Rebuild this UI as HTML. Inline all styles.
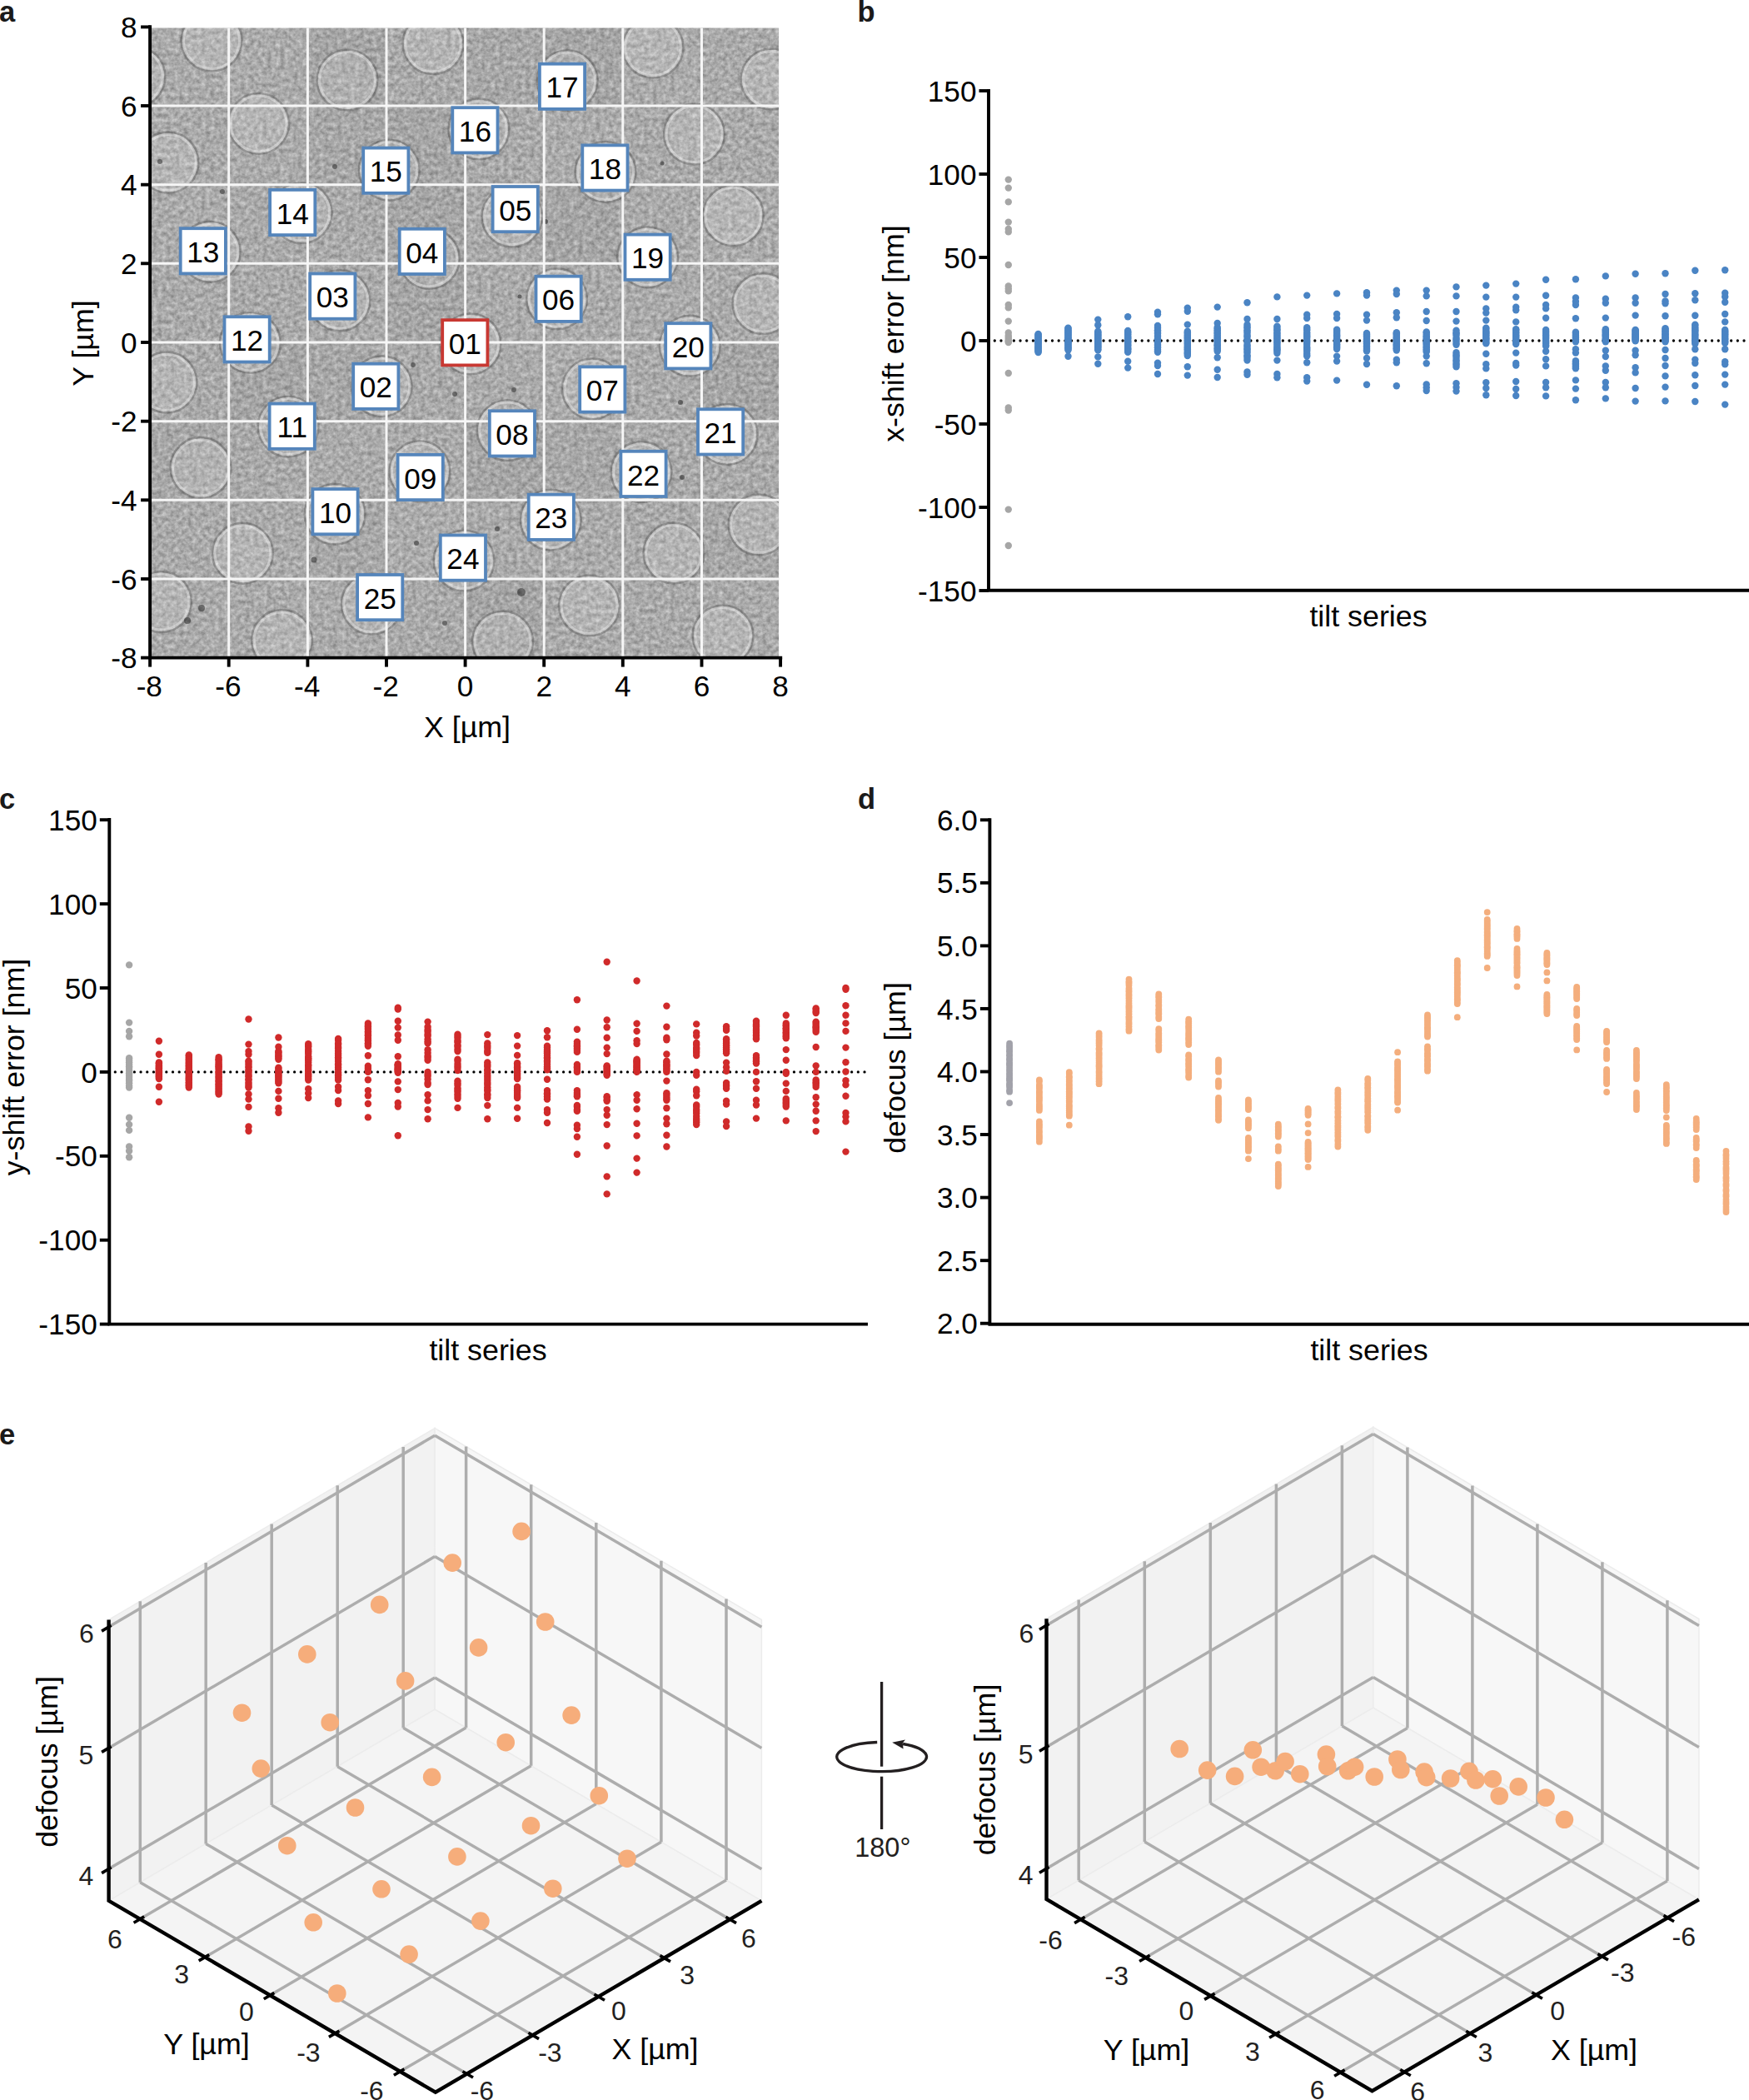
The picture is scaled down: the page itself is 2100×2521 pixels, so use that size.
<!DOCTYPE html>
<html><head><meta charset="utf-8"><title>Figure</title>
<style>
html,body{margin:0;padding:0;background:#fff;}
svg{display:block;}
text{font-family:"Liberation Sans", Arial, Helvetica, sans-serif;fill:#000;}
.t{font-size:35.2px;}
.tt{font-size:35.8px;}
.pl{font-size:34.5px;font-weight:bold;fill:#1a1a1a;}
.m{font-size:32px;fill:#231f20;}
.ax3{stroke:#000;stroke-width:4.4;fill:none;}
.tk3{stroke:#000;stroke-width:3.6;fill:none;}
.ax{stroke:#000;stroke-width:3.9;fill:none;stroke-linecap:butt;}
.g3{stroke:#adadad;stroke-width:3.5;fill:none;stroke-linecap:butt;}
</style></head><body>
<svg width="2100" height="2521" viewBox="0 0 2100 2521">
<rect width="2100" height="2521" fill="#fff"/>

<text class="pl" x="-1" y="26">a</text>
<text class="pl" x="1029.5" y="26">b</text>
<text class="pl" x="-1" y="971">c</text>
<text class="pl" x="1030" y="971">d</text>
<text class="pl" x="-1" y="1734">e</text>
<defs>
<filter id="nz" x="0" y="0" width="100%" height="100%" color-interpolation-filters="sRGB">
<feTurbulence type="fractalNoise" baseFrequency="0.19" numOctaves="3" seed="11" result="n"/>
<feColorMatrix in="n" type="matrix" values="0.38 0 0 0 0.475  0.38 0 0 0 0.475  0.38 0 0 0 0.475  0 0 0 0 1"/>
<feGaussianBlur stdDeviation="0.6"/>
</filter>
<clipPath id="ca"><rect x="181.6" y="33.4" width="753.5" height="755.3"/></clipPath>
</defs>
<g clip-path="url(#ca)">
<rect x="180.1" y="32.4" width="757.0" height="757.3" fill="#a4a4a4" filter="url(#nz)"/>
<rect x="180.1" y="32.4" width="94.6" height="94.7" fill="rgba(255,255,255,0.012)"/>
<rect x="180.1" y="221.7" width="94.6" height="94.7" fill="rgba(255,255,255,0.024)"/>
<rect x="180.1" y="505.7" width="94.6" height="94.7" fill="rgba(0,0,0,0.012)"/>
<rect x="180.1" y="695.0" width="94.6" height="94.7" fill="rgba(255,255,255,0.012)"/>
<rect x="274.7" y="32.4" width="94.6" height="94.7" fill="rgba(255,255,255,0.012)"/>
<rect x="274.7" y="127.0" width="94.6" height="94.7" fill="rgba(255,255,255,0.012)"/>
<rect x="274.7" y="411.0" width="94.6" height="94.7" fill="rgba(0,0,0,0.024)"/>
<rect x="274.7" y="600.3" width="94.6" height="94.7" fill="rgba(255,255,255,0.012)"/>
<rect x="369.4" y="32.4" width="94.6" height="94.7" fill="rgba(0,0,0,0.024)"/>
<rect x="369.4" y="127.0" width="94.6" height="94.7" fill="rgba(0,0,0,0.012)"/>
<rect x="369.4" y="411.0" width="94.6" height="94.7" fill="rgba(0,0,0,0.012)"/>
<rect x="369.4" y="505.7" width="94.6" height="94.7" fill="rgba(255,255,255,0.012)"/>
<rect x="369.4" y="600.3" width="94.6" height="94.7" fill="rgba(0,0,0,0.012)"/>
<rect x="369.4" y="695.0" width="94.6" height="94.7" fill="rgba(255,255,255,0.012)"/>
<rect x="464.0" y="127.0" width="94.6" height="94.7" fill="rgba(0,0,0,0.024)"/>
<rect x="464.0" y="221.7" width="94.6" height="94.7" fill="rgba(0,0,0,0.024)"/>
<rect x="464.0" y="316.3" width="94.6" height="94.7" fill="rgba(0,0,0,0.024)"/>
<rect x="464.0" y="600.3" width="94.6" height="94.7" fill="rgba(255,255,255,0.024)"/>
<rect x="558.6" y="32.4" width="94.6" height="94.7" fill="rgba(0,0,0,0.012)"/>
<rect x="558.6" y="316.3" width="94.6" height="94.7" fill="rgba(255,255,255,0.012)"/>
<rect x="558.6" y="411.0" width="94.6" height="94.7" fill="rgba(255,255,255,0.012)"/>
<rect x="558.6" y="505.7" width="94.6" height="94.7" fill="rgba(0,0,0,0.024)"/>
<rect x="558.6" y="600.3" width="94.6" height="94.7" fill="rgba(255,255,255,0.012)"/>
<rect x="558.6" y="695.0" width="94.6" height="94.7" fill="rgba(0,0,0,0.024)"/>
<rect x="653.2" y="32.4" width="94.6" height="94.7" fill="rgba(0,0,0,0.024)"/>
<rect x="653.2" y="127.0" width="94.6" height="94.7" fill="rgba(255,255,255,0.024)"/>
<rect x="653.2" y="221.7" width="94.6" height="94.7" fill="rgba(0,0,0,0.024)"/>
<rect x="653.2" y="316.3" width="94.6" height="94.7" fill="rgba(255,255,255,0.012)"/>
<rect x="653.2" y="411.0" width="94.6" height="94.7" fill="rgba(255,255,255,0.024)"/>
<rect x="653.2" y="505.7" width="94.6" height="94.7" fill="rgba(0,0,0,0.012)"/>
<rect x="653.2" y="600.3" width="94.6" height="94.7" fill="rgba(255,255,255,0.012)"/>
<rect x="747.8" y="32.4" width="94.6" height="94.7" fill="rgba(255,255,255,0.024)"/>
<rect x="747.8" y="221.7" width="94.6" height="94.7" fill="rgba(255,255,255,0.012)"/>
<rect x="747.8" y="316.3" width="94.6" height="94.7" fill="rgba(255,255,255,0.012)"/>
<rect x="747.8" y="411.0" width="94.6" height="94.7" fill="rgba(255,255,255,0.012)"/>
<rect x="842.5" y="221.7" width="94.6" height="94.7" fill="rgba(255,255,255,0.024)"/>
<rect x="842.5" y="411.0" width="94.6" height="94.7" fill="rgba(0,0,0,0.024)"/>
<rect x="842.5" y="600.3" width="94.6" height="94.7" fill="rgba(0,0,0,0.012)"/>
<rect x="842.5" y="695.0" width="94.6" height="94.7" fill="rgba(255,255,255,0.012)"/>
<circle cx="564.9" cy="412.9" r="36.5" fill="none" stroke="rgba(50,50,50,0.28)" stroke-width="2.4"/>
<circle cx="564.9" cy="412.9" r="33.5" fill="rgba(255,255,255,0.13)" stroke="rgba(255,255,255,0.34)" stroke-width="3"/>
<circle cx="458.2" cy="463.8" r="36.5" fill="none" stroke="rgba(50,50,50,0.28)" stroke-width="2.4"/>
<circle cx="458.2" cy="463.8" r="33.5" fill="rgba(255,255,255,0.13)" stroke="rgba(255,255,255,0.34)" stroke-width="3"/>
<circle cx="407.9" cy="360.8" r="36.5" fill="none" stroke="rgba(50,50,50,0.28)" stroke-width="2.4"/>
<circle cx="407.9" cy="360.8" r="33.5" fill="rgba(255,255,255,0.13)" stroke="rgba(255,255,255,0.34)" stroke-width="3"/>
<circle cx="515.3" cy="310.4" r="36.5" fill="none" stroke="rgba(50,50,50,0.28)" stroke-width="2.4"/>
<circle cx="515.3" cy="310.4" r="33.5" fill="rgba(255,255,255,0.13)" stroke="rgba(255,255,255,0.34)" stroke-width="3"/>
<circle cx="614.9" cy="260.1" r="36.5" fill="none" stroke="rgba(50,50,50,0.28)" stroke-width="2.4"/>
<circle cx="614.9" cy="260.1" r="33.5" fill="rgba(255,255,255,0.13)" stroke="rgba(255,255,255,0.34)" stroke-width="3"/>
<circle cx="668.6" cy="358.8" r="36.5" fill="none" stroke="rgba(50,50,50,0.28)" stroke-width="2.4"/>
<circle cx="668.6" cy="358.8" r="33.5" fill="rgba(255,255,255,0.13)" stroke="rgba(255,255,255,0.34)" stroke-width="3"/>
<circle cx="711.3" cy="466.8" r="36.5" fill="none" stroke="rgba(50,50,50,0.28)" stroke-width="2.4"/>
<circle cx="711.3" cy="466.8" r="33.5" fill="rgba(255,255,255,0.13)" stroke="rgba(255,255,255,0.34)" stroke-width="3"/>
<circle cx="609.2" cy="516.6" r="36.5" fill="none" stroke="rgba(50,50,50,0.28)" stroke-width="2.4"/>
<circle cx="609.2" cy="516.6" r="33.5" fill="rgba(255,255,255,0.13)" stroke="rgba(255,255,255,0.34)" stroke-width="3"/>
<circle cx="503.9" cy="565.8" r="36.5" fill="none" stroke="rgba(50,50,50,0.28)" stroke-width="2.4"/>
<circle cx="503.9" cy="565.8" r="33.5" fill="rgba(255,255,255,0.13)" stroke="rgba(255,255,255,0.34)" stroke-width="3"/>
<circle cx="402.1" cy="617.3" r="36.5" fill="none" stroke="rgba(50,50,50,0.28)" stroke-width="2.4"/>
<circle cx="402.1" cy="617.3" r="33.5" fill="rgba(255,255,255,0.13)" stroke="rgba(255,255,255,0.34)" stroke-width="3"/>
<circle cx="346.1" cy="512.1" r="36.5" fill="none" stroke="rgba(50,50,50,0.28)" stroke-width="2.4"/>
<circle cx="346.1" cy="512.1" r="33.5" fill="rgba(255,255,255,0.13)" stroke="rgba(255,255,255,0.34)" stroke-width="3"/>
<circle cx="300.4" cy="411.4" r="36.5" fill="none" stroke="rgba(50,50,50,0.28)" stroke-width="2.4"/>
<circle cx="300.4" cy="411.4" r="33.5" fill="rgba(255,255,255,0.13)" stroke="rgba(255,255,255,0.34)" stroke-width="3"/>
<circle cx="252.3" cy="302.3" r="36.5" fill="none" stroke="rgba(50,50,50,0.28)" stroke-width="2.4"/>
<circle cx="252.3" cy="302.3" r="33.5" fill="rgba(255,255,255,0.13)" stroke="rgba(255,255,255,0.34)" stroke-width="3"/>
<circle cx="362.2" cy="255.6" r="36.5" fill="none" stroke="rgba(50,50,50,0.28)" stroke-width="2.4"/>
<circle cx="362.2" cy="255.6" r="33.5" fill="rgba(255,255,255,0.13)" stroke="rgba(255,255,255,0.34)" stroke-width="3"/>
<circle cx="467.3" cy="204.1" r="36.5" fill="none" stroke="rgba(50,50,50,0.28)" stroke-width="2.4"/>
<circle cx="467.3" cy="204.1" r="33.5" fill="rgba(255,255,255,0.13)" stroke="rgba(255,255,255,0.34)" stroke-width="3"/>
<circle cx="574.9" cy="154.9" r="36.5" fill="none" stroke="rgba(50,50,50,0.28)" stroke-width="2.4"/>
<circle cx="574.9" cy="154.9" r="33.5" fill="rgba(255,255,255,0.13)" stroke="rgba(255,255,255,0.34)" stroke-width="3"/>
<circle cx="681.2" cy="96.6" r="36.5" fill="none" stroke="rgba(50,50,50,0.28)" stroke-width="2.4"/>
<circle cx="681.2" cy="96.6" r="33.5" fill="rgba(255,255,255,0.13)" stroke="rgba(255,255,255,0.34)" stroke-width="3"/>
<circle cx="727.0" cy="206.4" r="36.5" fill="none" stroke="rgba(50,50,50,0.28)" stroke-width="2.4"/>
<circle cx="727.0" cy="206.4" r="33.5" fill="rgba(255,255,255,0.13)" stroke="rgba(255,255,255,0.34)" stroke-width="3"/>
<circle cx="777.6" cy="308.7" r="36.5" fill="none" stroke="rgba(50,50,50,0.28)" stroke-width="2.4"/>
<circle cx="777.6" cy="308.7" r="33.5" fill="rgba(255,255,255,0.13)" stroke="rgba(255,255,255,0.34)" stroke-width="3"/>
<circle cx="828.3" cy="415.3" r="36.5" fill="none" stroke="rgba(50,50,50,0.28)" stroke-width="2.4"/>
<circle cx="828.3" cy="415.3" r="33.5" fill="rgba(255,255,255,0.13)" stroke="rgba(255,255,255,0.34)" stroke-width="3"/>
<circle cx="873.1" cy="521.4" r="36.5" fill="none" stroke="rgba(50,50,50,0.28)" stroke-width="2.4"/>
<circle cx="873.1" cy="521.4" r="33.5" fill="rgba(255,255,255,0.13)" stroke="rgba(255,255,255,0.34)" stroke-width="3"/>
<circle cx="770.0" cy="566.5" r="36.5" fill="none" stroke="rgba(50,50,50,0.28)" stroke-width="2.4"/>
<circle cx="770.0" cy="566.5" r="33.5" fill="rgba(255,255,255,0.13)" stroke="rgba(255,255,255,0.34)" stroke-width="3"/>
<circle cx="661.3" cy="624.1" r="36.5" fill="none" stroke="rgba(50,50,50,0.28)" stroke-width="2.4"/>
<circle cx="661.3" cy="624.1" r="33.5" fill="rgba(255,255,255,0.13)" stroke="rgba(255,255,255,0.34)" stroke-width="3"/>
<circle cx="557.0" cy="673.0" r="36.5" fill="none" stroke="rgba(50,50,50,0.28)" stroke-width="2.4"/>
<circle cx="557.0" cy="673.0" r="33.5" fill="rgba(255,255,255,0.13)" stroke="rgba(255,255,255,0.34)" stroke-width="3"/>
<circle cx="446.2" cy="725.0" r="36.5" fill="none" stroke="rgba(50,50,50,0.28)" stroke-width="2.4"/>
<circle cx="446.2" cy="725.0" r="33.5" fill="rgba(255,255,255,0.13)" stroke="rgba(255,255,255,0.34)" stroke-width="3"/>
<circle cx="254.0" cy="49.0" r="36.5" fill="none" stroke="rgba(50,50,50,0.28)" stroke-width="2.4"/>
<circle cx="254.0" cy="49.0" r="33.5" fill="rgba(255,255,255,0.13)" stroke="rgba(255,255,255,0.34)" stroke-width="3"/>
<circle cx="310.5" cy="148.4" r="36.5" fill="none" stroke="rgba(50,50,50,0.28)" stroke-width="2.4"/>
<circle cx="310.5" cy="148.4" r="33.5" fill="rgba(255,255,255,0.13)" stroke="rgba(255,255,255,0.34)" stroke-width="3"/>
<circle cx="202.0" cy="195.0" r="36.5" fill="none" stroke="rgba(50,50,50,0.28)" stroke-width="2.4"/>
<circle cx="202.0" cy="195.0" r="33.5" fill="rgba(255,255,255,0.13)" stroke="rgba(255,255,255,0.34)" stroke-width="3"/>
<circle cx="417.0" cy="96.0" r="36.5" fill="none" stroke="rgba(50,50,50,0.28)" stroke-width="2.4"/>
<circle cx="417.0" cy="96.0" r="33.5" fill="rgba(255,255,255,0.13)" stroke="rgba(255,255,255,0.34)" stroke-width="3"/>
<circle cx="520.0" cy="52.5" r="36.5" fill="none" stroke="rgba(50,50,50,0.28)" stroke-width="2.4"/>
<circle cx="520.0" cy="52.5" r="33.5" fill="rgba(255,255,255,0.13)" stroke="rgba(255,255,255,0.34)" stroke-width="3"/>
<circle cx="162.0" cy="92.0" r="36.5" fill="none" stroke="rgba(50,50,50,0.28)" stroke-width="2.4"/>
<circle cx="162.0" cy="92.0" r="33.5" fill="rgba(255,255,255,0.13)" stroke="rgba(255,255,255,0.34)" stroke-width="3"/>
<circle cx="784.0" cy="57.0" r="36.5" fill="none" stroke="rgba(50,50,50,0.28)" stroke-width="2.4"/>
<circle cx="784.0" cy="57.0" r="33.5" fill="rgba(255,255,255,0.13)" stroke="rgba(255,255,255,0.34)" stroke-width="3"/>
<circle cx="833.5" cy="161.0" r="36.5" fill="none" stroke="rgba(50,50,50,0.28)" stroke-width="2.4"/>
<circle cx="833.5" cy="161.0" r="33.5" fill="rgba(255,255,255,0.13)" stroke="rgba(255,255,255,0.34)" stroke-width="3"/>
<circle cx="880.3" cy="258.7" r="36.5" fill="none" stroke="rgba(50,50,50,0.28)" stroke-width="2.4"/>
<circle cx="880.3" cy="258.7" r="33.5" fill="rgba(255,255,255,0.13)" stroke="rgba(255,255,255,0.34)" stroke-width="3"/>
<circle cx="926.0" cy="95.0" r="36.5" fill="none" stroke="rgba(50,50,50,0.28)" stroke-width="2.4"/>
<circle cx="926.0" cy="95.0" r="33.5" fill="rgba(255,255,255,0.13)" stroke="rgba(255,255,255,0.34)" stroke-width="3"/>
<circle cx="916.0" cy="364.5" r="36.5" fill="none" stroke="rgba(50,50,50,0.28)" stroke-width="2.4"/>
<circle cx="916.0" cy="364.5" r="33.5" fill="rgba(255,255,255,0.13)" stroke="rgba(255,255,255,0.34)" stroke-width="3"/>
<circle cx="707.5" cy="727.0" r="36.5" fill="none" stroke="rgba(50,50,50,0.28)" stroke-width="2.4"/>
<circle cx="707.5" cy="727.0" r="33.5" fill="rgba(255,255,255,0.13)" stroke="rgba(255,255,255,0.34)" stroke-width="3"/>
<circle cx="809.0" cy="664.0" r="36.5" fill="none" stroke="rgba(50,50,50,0.28)" stroke-width="2.4"/>
<circle cx="809.0" cy="664.0" r="33.5" fill="rgba(255,255,255,0.13)" stroke="rgba(255,255,255,0.34)" stroke-width="3"/>
<circle cx="911.0" cy="630.0" r="36.5" fill="none" stroke="rgba(50,50,50,0.28)" stroke-width="2.4"/>
<circle cx="911.0" cy="630.0" r="33.5" fill="rgba(255,255,255,0.13)" stroke="rgba(255,255,255,0.34)" stroke-width="3"/>
<circle cx="868.0" cy="763.0" r="36.5" fill="none" stroke="rgba(50,50,50,0.28)" stroke-width="2.4"/>
<circle cx="868.0" cy="763.0" r="33.5" fill="rgba(255,255,255,0.13)" stroke="rgba(255,255,255,0.34)" stroke-width="3"/>
<circle cx="603.5" cy="770.0" r="36.5" fill="none" stroke="rgba(50,50,50,0.28)" stroke-width="2.4"/>
<circle cx="603.5" cy="770.0" r="33.5" fill="rgba(255,255,255,0.13)" stroke="rgba(255,255,255,0.34)" stroke-width="3"/>
<circle cx="200.0" cy="459.0" r="36.5" fill="none" stroke="rgba(50,50,50,0.28)" stroke-width="2.4"/>
<circle cx="200.0" cy="459.0" r="33.5" fill="rgba(255,255,255,0.13)" stroke="rgba(255,255,255,0.34)" stroke-width="3"/>
<circle cx="241.0" cy="561.5" r="36.5" fill="none" stroke="rgba(50,50,50,0.28)" stroke-width="2.4"/>
<circle cx="241.0" cy="561.5" r="33.5" fill="rgba(255,255,255,0.13)" stroke="rgba(255,255,255,0.34)" stroke-width="3"/>
<circle cx="291.4" cy="664.3" r="36.5" fill="none" stroke="rgba(50,50,50,0.28)" stroke-width="2.4"/>
<circle cx="291.4" cy="664.3" r="33.5" fill="rgba(255,255,255,0.13)" stroke="rgba(255,255,255,0.34)" stroke-width="3"/>
<circle cx="193.5" cy="722.5" r="36.5" fill="none" stroke="rgba(50,50,50,0.28)" stroke-width="2.4"/>
<circle cx="193.5" cy="722.5" r="33.5" fill="rgba(255,255,255,0.13)" stroke="rgba(255,255,255,0.34)" stroke-width="3"/>
<circle cx="338.5" cy="768.5" r="36.5" fill="none" stroke="rgba(50,50,50,0.28)" stroke-width="2.4"/>
<circle cx="338.5" cy="768.5" r="33.5" fill="rgba(255,255,255,0.13)" stroke="rgba(255,255,255,0.34)" stroke-width="3"/>
<circle cx="192" cy="194" r="3" fill="rgba(40,40,40,0.55)"/>
<circle cx="267" cy="230" r="3" fill="rgba(40,40,40,0.55)"/>
<circle cx="402" cy="200" r="3" fill="rgba(40,40,40,0.55)"/>
<circle cx="655" cy="266" r="3" fill="rgba(40,40,40,0.55)"/>
<circle cx="624" cy="356" r="2.5" fill="rgba(40,40,40,0.55)"/>
<circle cx="496" cy="438" r="3" fill="rgba(40,40,40,0.55)"/>
<circle cx="546" cy="473" r="3" fill="rgba(40,40,40,0.55)"/>
<circle cx="617" cy="468" r="3" fill="rgba(40,40,40,0.55)"/>
<circle cx="817" cy="483" r="3" fill="rgba(40,40,40,0.55)"/>
<circle cx="819" cy="573" r="3" fill="rgba(40,40,40,0.55)"/>
<circle cx="597" cy="635" r="3" fill="rgba(40,40,40,0.55)"/>
<circle cx="500" cy="652" r="3" fill="rgba(40,40,40,0.55)"/>
<circle cx="377" cy="672" r="3.5" fill="rgba(40,40,40,0.55)"/>
<circle cx="626" cy="711" r="5" fill="rgba(40,40,40,0.55)"/>
<circle cx="242" cy="730" r="4" fill="rgba(40,40,40,0.55)"/>
<circle cx="225" cy="745" r="4" fill="rgba(40,40,40,0.55)"/>
<circle cx="534" cy="748" r="3" fill="rgba(40,40,40,0.55)"/>
<circle cx="678" cy="93" r="2.5" fill="rgba(40,40,40,0.55)"/>
<circle cx="795" cy="196" r="2.5" fill="rgba(40,40,40,0.55)"/>
<circle cx="265" cy="298" r="2.5" fill="rgba(40,40,40,0.55)"/>
<line x1="274.7" y1="32.4" x2="274.7" y2="789.6" stroke="#f6f6f6" stroke-width="3"/>
<line x1="180.1" y1="695.0" x2="937.1" y2="695.0" stroke="#f6f6f6" stroke-width="3"/>
<line x1="369.4" y1="32.4" x2="369.4" y2="789.6" stroke="#f6f6f6" stroke-width="3"/>
<line x1="180.1" y1="600.3" x2="937.1" y2="600.3" stroke="#f6f6f6" stroke-width="3"/>
<line x1="464.0" y1="32.4" x2="464.0" y2="789.6" stroke="#f6f6f6" stroke-width="3"/>
<line x1="180.1" y1="505.7" x2="937.1" y2="505.7" stroke="#f6f6f6" stroke-width="3"/>
<line x1="558.6" y1="32.4" x2="558.6" y2="789.6" stroke="#f6f6f6" stroke-width="3"/>
<line x1="180.1" y1="411.0" x2="937.1" y2="411.0" stroke="#f6f6f6" stroke-width="3"/>
<line x1="653.2" y1="32.4" x2="653.2" y2="789.6" stroke="#f6f6f6" stroke-width="3"/>
<line x1="180.1" y1="316.3" x2="937.1" y2="316.3" stroke="#f6f6f6" stroke-width="3"/>
<line x1="747.8" y1="32.4" x2="747.8" y2="789.6" stroke="#f6f6f6" stroke-width="3"/>
<line x1="180.1" y1="221.7" x2="937.1" y2="221.7" stroke="#f6f6f6" stroke-width="3"/>
<line x1="842.5" y1="32.4" x2="842.5" y2="789.6" stroke="#f6f6f6" stroke-width="3"/>
<line x1="180.1" y1="127.0" x2="937.1" y2="127.0" stroke="#f6f6f6" stroke-width="3"/>
</g>
<rect x="531.2" y="384.2" width="54.2" height="54.2" fill="#fff" stroke="#c83832" stroke-width="3.8"/>
<text class="t" x="558.3" y="424.9" text-anchor="middle">01</text>
<rect x="424.2" y="436.7" width="54.2" height="54.2" fill="#fff" stroke="#5585bb" stroke-width="3.8"/>
<text class="t" x="451.3" y="477.4" text-anchor="middle">02</text>
<rect x="372.2" y="328.5" width="54.2" height="54.2" fill="#fff" stroke="#5585bb" stroke-width="3.8"/>
<text class="t" x="399.3" y="369.2" text-anchor="middle">03</text>
<rect x="479.7" y="274.8" width="54.2" height="54.2" fill="#fff" stroke="#5585bb" stroke-width="3.8"/>
<text class="t" x="506.8" y="315.5" text-anchor="middle">04</text>
<rect x="591.6" y="224.0" width="54.2" height="54.2" fill="#fff" stroke="#5585bb" stroke-width="3.8"/>
<text class="t" x="618.7" y="264.7" text-anchor="middle">05</text>
<rect x="643.5" y="331.7" width="54.2" height="54.2" fill="#fff" stroke="#5585bb" stroke-width="3.8"/>
<text class="t" x="670.6" y="372.4" text-anchor="middle">06</text>
<rect x="696.2" y="440.4" width="54.2" height="54.2" fill="#fff" stroke="#5585bb" stroke-width="3.8"/>
<text class="t" x="723.3" y="481.1" text-anchor="middle">07</text>
<rect x="587.8" y="493.3" width="54.2" height="54.2" fill="#fff" stroke="#5585bb" stroke-width="3.8"/>
<text class="t" x="614.9" y="534.0" text-anchor="middle">08</text>
<rect x="477.6" y="545.9" width="54.2" height="54.2" fill="#fff" stroke="#5585bb" stroke-width="3.8"/>
<text class="t" x="504.7" y="586.6" text-anchor="middle">09</text>
<rect x="375.4" y="587.1" width="54.2" height="54.2" fill="#fff" stroke="#5585bb" stroke-width="3.8"/>
<text class="t" x="402.5" y="627.8" text-anchor="middle">10</text>
<rect x="323.6" y="484.6" width="54.2" height="54.2" fill="#fff" stroke="#5585bb" stroke-width="3.8"/>
<text class="t" x="350.7" y="525.3" text-anchor="middle">11</text>
<rect x="269.5" y="380.3" width="54.2" height="54.2" fill="#fff" stroke="#5585bb" stroke-width="3.8"/>
<text class="t" x="296.6" y="421.0" text-anchor="middle">12</text>
<rect x="216.7" y="274.2" width="54.2" height="54.2" fill="#fff" stroke="#5585bb" stroke-width="3.8"/>
<text class="t" x="243.8" y="314.9" text-anchor="middle">13</text>
<rect x="324.1" y="227.9" width="54.2" height="54.2" fill="#fff" stroke="#5585bb" stroke-width="3.8"/>
<text class="t" x="351.2" y="268.6" text-anchor="middle">14</text>
<rect x="436.2" y="177.6" width="54.2" height="54.2" fill="#fff" stroke="#5585bb" stroke-width="3.8"/>
<text class="t" x="463.3" y="218.3" text-anchor="middle">15</text>
<rect x="543.3" y="129.2" width="54.2" height="54.2" fill="#fff" stroke="#5585bb" stroke-width="3.8"/>
<text class="t" x="570.4" y="169.9" text-anchor="middle">16</text>
<rect x="647.9" y="76.7" width="54.2" height="54.2" fill="#fff" stroke="#5585bb" stroke-width="3.8"/>
<text class="t" x="675.0" y="117.4" text-anchor="middle">17</text>
<rect x="699.3" y="174.4" width="54.2" height="54.2" fill="#fff" stroke="#5585bb" stroke-width="3.8"/>
<text class="t" x="726.4" y="215.1" text-anchor="middle">18</text>
<rect x="750.5" y="281.6" width="54.2" height="54.2" fill="#fff" stroke="#5585bb" stroke-width="3.8"/>
<text class="t" x="777.6" y="322.3" text-anchor="middle">19</text>
<rect x="799.2" y="388.2" width="54.2" height="54.2" fill="#fff" stroke="#5585bb" stroke-width="3.8"/>
<text class="t" x="826.3" y="428.9" text-anchor="middle">20</text>
<rect x="838.0" y="491.3" width="54.2" height="54.2" fill="#fff" stroke="#5585bb" stroke-width="3.8"/>
<text class="t" x="865.1" y="532.0" text-anchor="middle">21</text>
<rect x="745.4" y="541.8" width="54.2" height="54.2" fill="#fff" stroke="#5585bb" stroke-width="3.8"/>
<text class="t" x="772.5" y="582.5" text-anchor="middle">22</text>
<rect x="634.7" y="593.7" width="54.2" height="54.2" fill="#fff" stroke="#5585bb" stroke-width="3.8"/>
<text class="t" x="661.8" y="634.4" text-anchor="middle">23</text>
<rect x="528.8" y="642.5" width="54.2" height="54.2" fill="#fff" stroke="#5585bb" stroke-width="3.8"/>
<text class="t" x="555.9" y="683.2" text-anchor="middle">24</text>
<rect x="429.1" y="690.0" width="54.2" height="54.2" fill="#fff" stroke="#5585bb" stroke-width="3.8"/>
<text class="t" x="456.2" y="730.7" text-anchor="middle">25</text>
<path class="ax" d="M180.1 30.3V789.6H939.2"/>
<line class="ax" x1="169.1" y1="789.6" x2="180.1" y2="789.6"/>
<line class="ax" x1="180.1" y1="789.6" x2="180.1" y2="800.6"/>
<text class="t" x="164.6" y="802.2" text-anchor="end">-8</text>
<text class="t" x="179.3" y="836.3" text-anchor="middle">-8</text>
<line class="ax" x1="169.1" y1="695.0" x2="180.1" y2="695.0"/>
<line class="ax" x1="274.7" y1="789.6" x2="274.7" y2="800.6"/>
<text class="t" x="164.6" y="707.6" text-anchor="end">-6</text>
<text class="t" x="273.9" y="836.3" text-anchor="middle">-6</text>
<line class="ax" x1="169.1" y1="600.3" x2="180.1" y2="600.3"/>
<line class="ax" x1="369.4" y1="789.6" x2="369.4" y2="800.6"/>
<text class="t" x="164.6" y="612.9" text-anchor="end">-4</text>
<text class="t" x="368.6" y="836.3" text-anchor="middle">-4</text>
<line class="ax" x1="169.1" y1="505.7" x2="180.1" y2="505.7"/>
<line class="ax" x1="464.0" y1="789.6" x2="464.0" y2="800.6"/>
<text class="t" x="164.6" y="518.3" text-anchor="end">-2</text>
<text class="t" x="463.2" y="836.3" text-anchor="middle">-2</text>
<line class="ax" x1="169.1" y1="411.0" x2="180.1" y2="411.0"/>
<line class="ax" x1="558.6" y1="789.6" x2="558.6" y2="800.6"/>
<text class="t" x="164.6" y="423.6" text-anchor="end">0</text>
<text class="t" x="558.6" y="836.3" text-anchor="middle">0</text>
<line class="ax" x1="169.1" y1="316.3" x2="180.1" y2="316.3"/>
<line class="ax" x1="653.2" y1="789.6" x2="653.2" y2="800.6"/>
<text class="t" x="164.6" y="328.9" text-anchor="end">2</text>
<text class="t" x="653.2" y="836.3" text-anchor="middle">2</text>
<line class="ax" x1="169.1" y1="221.7" x2="180.1" y2="221.7"/>
<line class="ax" x1="747.8" y1="789.6" x2="747.8" y2="800.6"/>
<text class="t" x="164.6" y="234.3" text-anchor="end">4</text>
<text class="t" x="747.8" y="836.3" text-anchor="middle">4</text>
<line class="ax" x1="169.1" y1="127.0" x2="180.1" y2="127.0"/>
<line class="ax" x1="842.5" y1="789.6" x2="842.5" y2="800.6"/>
<text class="t" x="164.6" y="139.6" text-anchor="end">6</text>
<text class="t" x="842.5" y="836.3" text-anchor="middle">6</text>
<line class="ax" x1="169.1" y1="32.4" x2="180.1" y2="32.4"/>
<line class="ax" x1="937.1" y1="789.6" x2="937.1" y2="800.6"/>
<text class="t" x="164.6" y="45.0" text-anchor="end">8</text>
<text class="t" x="937.1" y="836.3" text-anchor="middle">8</text>
<text class="tt" x="561" y="885.3" text-anchor="middle">X [µm]</text>
<text class="tt" transform="translate(112,412.0) rotate(-90)" text-anchor="middle">Y [µm]</text>
<line x1="1194.3" y1="409" x2="2100" y2="409" stroke="#000" stroke-width="3.3" stroke-linecap="round" stroke-dasharray="0.01 7.68"/>
<g fill="#a6a6a6">
<circle cx="1210.8" cy="215.6" r="4.2"/>
<circle cx="1210.8" cy="225.6" r="4.2"/>
<circle cx="1210.8" cy="242.4" r="4.2"/>
<circle cx="1210.8" cy="266.6" r="4.2"/>
<circle cx="1210.8" cy="275.0" r="4.2"/>
<circle cx="1210.8" cy="278.4" r="4.2"/>
<circle cx="1210.8" cy="318.0" r="4.2"/>
<circle cx="1210.8" cy="343.4" r="4.2"/>
<circle cx="1210.8" cy="346.6" r="4.2"/>
<circle cx="1210.8" cy="349.4" r="4.2"/>
<circle cx="1210.8" cy="366.0" r="4.2"/>
<circle cx="1210.8" cy="369.4" r="4.2"/>
<circle cx="1210.8" cy="385.6" r="4.2"/>
<circle cx="1210.8" cy="399.4" r="4.2"/>
<circle cx="1210.8" cy="405.0" r="4.2"/>
<circle cx="1210.8" cy="409.0" r="4.2"/>
<circle cx="1210.8" cy="407.0" r="4.2"/>
<circle cx="1210.8" cy="411.0" r="4.2"/>
<circle cx="1210.8" cy="410.0" r="4.2"/>
<circle cx="1210.8" cy="448.0" r="4.2"/>
<circle cx="1210.8" cy="489.4" r="4.2"/>
<circle cx="1210.8" cy="492.6" r="4.2"/>
<circle cx="1210.8" cy="611.6" r="4.2"/>
<circle cx="1210.8" cy="655.0" r="4.2"/>
<circle cx="1210.8" cy="403.0" r="4.2"/>
</g>
<g fill="#4a84c4">
<circle cx="1246.6" cy="401.0" r="4.2"/>
<circle cx="1246.6" cy="401.9" r="4.2"/>
<circle cx="1246.6" cy="402.8" r="4.2"/>
<circle cx="1246.6" cy="403.5" r="4.2"/>
<circle cx="1246.6" cy="404.7" r="4.2"/>
<circle cx="1246.6" cy="405.7" r="4.2"/>
<circle cx="1246.6" cy="406.4" r="4.2"/>
<circle cx="1246.6" cy="407.5" r="4.2"/>
<circle cx="1246.6" cy="408.4" r="4.2"/>
<circle cx="1246.6" cy="409.5" r="4.2"/>
<circle cx="1246.6" cy="410.0" r="4.2"/>
<circle cx="1246.6" cy="410.9" r="4.2"/>
<circle cx="1246.6" cy="411.7" r="4.2"/>
<circle cx="1246.6" cy="412.6" r="4.2"/>
<circle cx="1246.6" cy="413.6" r="4.2"/>
<circle cx="1246.6" cy="414.8" r="4.2"/>
<circle cx="1246.6" cy="415.9" r="4.2"/>
<circle cx="1246.6" cy="416.8" r="4.2"/>
<circle cx="1246.6" cy="417.4" r="4.2"/>
<circle cx="1246.6" cy="418.3" r="4.2"/>
<circle cx="1246.6" cy="419.4" r="4.2"/>
<circle cx="1246.6" cy="420.5" r="4.2"/>
<circle cx="1246.6" cy="421.1" r="4.2"/>
<circle cx="1246.6" cy="422.0" r="4.2"/>
<circle cx="1246.6" cy="423.0" r="4.2"/>
</g>
<g fill="#4a84c4">
<circle cx="1282.5" cy="427.8" r="4.2"/>
<circle cx="1282.5" cy="393.6" r="4.2"/>
<circle cx="1282.5" cy="394.5" r="4.2"/>
<circle cx="1282.5" cy="396.2" r="4.2"/>
<circle cx="1282.5" cy="397.0" r="4.2"/>
<circle cx="1282.5" cy="398.5" r="4.2"/>
<circle cx="1282.5" cy="399.3" r="4.2"/>
<circle cx="1282.5" cy="400.8" r="4.2"/>
<circle cx="1282.5" cy="401.8" r="4.2"/>
<circle cx="1282.5" cy="402.6" r="4.2"/>
<circle cx="1282.5" cy="404.3" r="4.2"/>
<circle cx="1282.5" cy="405.4" r="4.2"/>
<circle cx="1282.5" cy="406.2" r="4.2"/>
<circle cx="1282.5" cy="407.6" r="4.2"/>
<circle cx="1282.5" cy="408.8" r="4.2"/>
<circle cx="1282.5" cy="410.1" r="4.2"/>
<circle cx="1282.5" cy="410.9" r="4.2"/>
<circle cx="1282.5" cy="411.9" r="4.2"/>
<circle cx="1282.5" cy="413.1" r="4.2"/>
<circle cx="1282.5" cy="414.3" r="4.2"/>
<circle cx="1282.5" cy="415.8" r="4.2"/>
<circle cx="1282.5" cy="417.1" r="4.2"/>
<circle cx="1282.5" cy="417.8" r="4.2"/>
<circle cx="1282.5" cy="419.0" r="4.2"/>
<circle cx="1282.5" cy="420.2" r="4.2"/>
</g>
<g fill="#4a84c4">
<circle cx="1318.3" cy="383.6" r="4.2"/>
<circle cx="1318.3" cy="390.2" r="4.2"/>
<circle cx="1318.3" cy="428.4" r="4.2"/>
<circle cx="1318.3" cy="436.8" r="4.2"/>
<circle cx="1318.3" cy="397.8" r="4.2"/>
<circle cx="1318.3" cy="399.0" r="4.2"/>
<circle cx="1318.3" cy="399.8" r="4.2"/>
<circle cx="1318.3" cy="401.2" r="4.2"/>
<circle cx="1318.3" cy="402.2" r="4.2"/>
<circle cx="1318.3" cy="403.3" r="4.2"/>
<circle cx="1318.3" cy="404.8" r="4.2"/>
<circle cx="1318.3" cy="405.7" r="4.2"/>
<circle cx="1318.3" cy="406.6" r="4.2"/>
<circle cx="1318.3" cy="407.9" r="4.2"/>
<circle cx="1318.3" cy="409.1" r="4.2"/>
<circle cx="1318.3" cy="410.4" r="4.2"/>
<circle cx="1318.3" cy="410.9" r="4.2"/>
<circle cx="1318.3" cy="412.3" r="4.2"/>
<circle cx="1318.3" cy="413.6" r="4.2"/>
<circle cx="1318.3" cy="414.5" r="4.2"/>
<circle cx="1318.3" cy="415.8" r="4.2"/>
<circle cx="1318.3" cy="416.6" r="4.2"/>
<circle cx="1318.3" cy="417.7" r="4.2"/>
<circle cx="1318.3" cy="419.3" r="4.2"/>
<circle cx="1318.3" cy="420.2" r="4.2"/>
</g>
<g fill="#4a84c4">
<circle cx="1354.2" cy="380.2" r="4.2"/>
<circle cx="1354.2" cy="433.8" r="4.2"/>
<circle cx="1354.2" cy="441.6" r="4.2"/>
<circle cx="1354.2" cy="397.0" r="4.2"/>
<circle cx="1354.2" cy="398.5" r="4.2"/>
<circle cx="1354.2" cy="399.3" r="4.2"/>
<circle cx="1354.2" cy="400.9" r="4.2"/>
<circle cx="1354.2" cy="401.6" r="4.2"/>
<circle cx="1354.2" cy="403.4" r="4.2"/>
<circle cx="1354.2" cy="404.7" r="4.2"/>
<circle cx="1354.2" cy="405.7" r="4.2"/>
<circle cx="1354.2" cy="406.6" r="4.2"/>
<circle cx="1354.2" cy="408.1" r="4.2"/>
<circle cx="1354.2" cy="409.4" r="4.2"/>
<circle cx="1354.2" cy="410.3" r="4.2"/>
<circle cx="1354.2" cy="411.6" r="4.2"/>
<circle cx="1354.2" cy="413.1" r="4.2"/>
<circle cx="1354.2" cy="414.3" r="4.2"/>
<circle cx="1354.2" cy="415.1" r="4.2"/>
<circle cx="1354.2" cy="416.7" r="4.2"/>
<circle cx="1354.2" cy="418.2" r="4.2"/>
<circle cx="1354.2" cy="419.2" r="4.2"/>
<circle cx="1354.2" cy="420.1" r="4.2"/>
<circle cx="1354.2" cy="421.8" r="4.2"/>
<circle cx="1354.2" cy="422.8" r="4.2"/>
</g>
<g fill="#4a84c4">
<circle cx="1390.0" cy="374.6" r="4.2"/>
<circle cx="1390.0" cy="377.2" r="4.2"/>
<circle cx="1390.0" cy="435.6" r="4.2"/>
<circle cx="1390.0" cy="439.0" r="4.2"/>
<circle cx="1390.0" cy="449.0" r="4.2"/>
<circle cx="1390.0" cy="391.0" r="4.2"/>
<circle cx="1390.0" cy="393.1" r="4.2"/>
<circle cx="1390.0" cy="393.9" r="4.2"/>
<circle cx="1390.0" cy="396.3" r="4.2"/>
<circle cx="1390.0" cy="397.4" r="4.2"/>
<circle cx="1390.0" cy="399.4" r="4.2"/>
<circle cx="1390.0" cy="400.8" r="4.2"/>
<circle cx="1390.0" cy="403.0" r="4.2"/>
<circle cx="1390.0" cy="403.9" r="4.2"/>
<circle cx="1390.0" cy="406.5" r="4.2"/>
<circle cx="1390.0" cy="407.6" r="4.2"/>
<circle cx="1390.0" cy="409.7" r="4.2"/>
<circle cx="1390.0" cy="411.2" r="4.2"/>
<circle cx="1390.0" cy="413.1" r="4.2"/>
<circle cx="1390.0" cy="414.3" r="4.2"/>
<circle cx="1390.0" cy="416.4" r="4.2"/>
<circle cx="1390.0" cy="417.4" r="4.2"/>
<circle cx="1390.0" cy="419.6" r="4.2"/>
<circle cx="1390.0" cy="421.2" r="4.2"/>
<circle cx="1390.0" cy="422.8" r="4.2"/>
</g>
<g fill="#4a84c4">
<circle cx="1425.8" cy="369.6" r="4.2"/>
<circle cx="1425.8" cy="373.8" r="4.2"/>
<circle cx="1425.8" cy="389.6" r="4.2"/>
<circle cx="1425.8" cy="440.2" r="4.2"/>
<circle cx="1425.8" cy="450.6" r="4.2"/>
<circle cx="1425.8" cy="397.8" r="4.2"/>
<circle cx="1425.8" cy="399.3" r="4.2"/>
<circle cx="1425.8" cy="400.9" r="4.2"/>
<circle cx="1425.8" cy="402.7" r="4.2"/>
<circle cx="1425.8" cy="403.9" r="4.2"/>
<circle cx="1425.8" cy="405.6" r="4.2"/>
<circle cx="1425.8" cy="406.8" r="4.2"/>
<circle cx="1425.8" cy="408.6" r="4.2"/>
<circle cx="1425.8" cy="409.7" r="4.2"/>
<circle cx="1425.8" cy="411.6" r="4.2"/>
<circle cx="1425.8" cy="412.9" r="4.2"/>
<circle cx="1425.8" cy="414.7" r="4.2"/>
<circle cx="1425.8" cy="416.5" r="4.2"/>
<circle cx="1425.8" cy="417.9" r="4.2"/>
<circle cx="1425.8" cy="419.3" r="4.2"/>
<circle cx="1425.8" cy="420.9" r="4.2"/>
<circle cx="1425.8" cy="422.8" r="4.2"/>
<circle cx="1425.8" cy="424.1" r="4.2"/>
<circle cx="1425.8" cy="425.0" r="4.2"/>
<circle cx="1425.8" cy="427.0" r="4.2"/>
</g>
<g fill="#4a84c4">
<circle cx="1461.7" cy="368.6" r="4.2"/>
<circle cx="1461.7" cy="388.0" r="4.2"/>
<circle cx="1461.7" cy="429.2" r="4.2"/>
<circle cx="1461.7" cy="443.8" r="4.2"/>
<circle cx="1461.7" cy="453.0" r="4.2"/>
<circle cx="1461.7" cy="393.0" r="4.2"/>
<circle cx="1461.7" cy="394.5" r="4.2"/>
<circle cx="1461.7" cy="396.3" r="4.2"/>
<circle cx="1461.7" cy="397.8" r="4.2"/>
<circle cx="1461.7" cy="399.5" r="4.2"/>
<circle cx="1461.7" cy="400.6" r="4.2"/>
<circle cx="1461.7" cy="402.4" r="4.2"/>
<circle cx="1461.7" cy="403.9" r="4.2"/>
<circle cx="1461.7" cy="405.5" r="4.2"/>
<circle cx="1461.7" cy="407.1" r="4.2"/>
<circle cx="1461.7" cy="407.8" r="4.2"/>
<circle cx="1461.7" cy="409.4" r="4.2"/>
<circle cx="1461.7" cy="410.8" r="4.2"/>
<circle cx="1461.7" cy="413.0" r="4.2"/>
<circle cx="1461.7" cy="414.2" r="4.2"/>
<circle cx="1461.7" cy="415.5" r="4.2"/>
<circle cx="1461.7" cy="417.6" r="4.2"/>
<circle cx="1461.7" cy="418.7" r="4.2"/>
<circle cx="1461.7" cy="419.9" r="4.2"/>
<circle cx="1461.7" cy="421.8" r="4.2"/>
</g>
<g fill="#4a84c4">
<circle cx="1497.5" cy="363.2" r="4.2"/>
<circle cx="1497.5" cy="383.0" r="4.2"/>
<circle cx="1497.5" cy="446.4" r="4.2"/>
<circle cx="1497.5" cy="449.8" r="4.2"/>
<circle cx="1497.5" cy="389.8" r="4.2"/>
<circle cx="1497.5" cy="391.9" r="4.2"/>
<circle cx="1497.5" cy="393.6" r="4.2"/>
<circle cx="1497.5" cy="396.2" r="4.2"/>
<circle cx="1497.5" cy="398.0" r="4.2"/>
<circle cx="1497.5" cy="399.9" r="4.2"/>
<circle cx="1497.5" cy="402.7" r="4.2"/>
<circle cx="1497.5" cy="404.2" r="4.2"/>
<circle cx="1497.5" cy="407.5" r="4.2"/>
<circle cx="1497.5" cy="408.6" r="4.2"/>
<circle cx="1497.5" cy="410.7" r="4.2"/>
<circle cx="1497.5" cy="413.9" r="4.2"/>
<circle cx="1497.5" cy="415.5" r="4.2"/>
<circle cx="1497.5" cy="418.0" r="4.2"/>
<circle cx="1497.5" cy="419.2" r="4.2"/>
<circle cx="1497.5" cy="421.5" r="4.2"/>
<circle cx="1497.5" cy="423.6" r="4.2"/>
<circle cx="1497.5" cy="426.7" r="4.2"/>
<circle cx="1497.5" cy="427.8" r="4.2"/>
<circle cx="1497.5" cy="430.1" r="4.2"/>
<circle cx="1497.5" cy="432.6" r="4.2"/>
</g>
<g fill="#4a84c4">
<circle cx="1533.4" cy="356.4" r="4.2"/>
<circle cx="1533.4" cy="383.0" r="4.2"/>
<circle cx="1533.4" cy="432.6" r="4.2"/>
<circle cx="1533.4" cy="449.0" r="4.2"/>
<circle cx="1533.4" cy="453.2" r="4.2"/>
<circle cx="1533.4" cy="391.6" r="4.2"/>
<circle cx="1533.4" cy="393.1" r="4.2"/>
<circle cx="1533.4" cy="395.4" r="4.2"/>
<circle cx="1533.4" cy="396.3" r="4.2"/>
<circle cx="1533.4" cy="398.9" r="4.2"/>
<circle cx="1533.4" cy="400.1" r="4.2"/>
<circle cx="1533.4" cy="401.9" r="4.2"/>
<circle cx="1533.4" cy="403.4" r="4.2"/>
<circle cx="1533.4" cy="405.5" r="4.2"/>
<circle cx="1533.4" cy="406.7" r="4.2"/>
<circle cx="1533.4" cy="408.8" r="4.2"/>
<circle cx="1533.4" cy="410.4" r="4.2"/>
<circle cx="1533.4" cy="411.6" r="4.2"/>
<circle cx="1533.4" cy="413.6" r="4.2"/>
<circle cx="1533.4" cy="415.8" r="4.2"/>
<circle cx="1533.4" cy="417.5" r="4.2"/>
<circle cx="1533.4" cy="419.2" r="4.2"/>
<circle cx="1533.4" cy="420.1" r="4.2"/>
<circle cx="1533.4" cy="421.8" r="4.2"/>
<circle cx="1533.4" cy="424.0" r="4.2"/>
</g>
<g fill="#4a84c4">
<circle cx="1569.2" cy="354.6" r="4.2"/>
<circle cx="1569.2" cy="377.8" r="4.2"/>
<circle cx="1569.2" cy="382.0" r="4.2"/>
<circle cx="1569.2" cy="435.2" r="4.2"/>
<circle cx="1569.2" cy="453.2" r="4.2"/>
<circle cx="1569.2" cy="457.6" r="4.2"/>
<circle cx="1569.2" cy="393.2" r="4.2"/>
<circle cx="1569.2" cy="395.1" r="4.2"/>
<circle cx="1569.2" cy="396.5" r="4.2"/>
<circle cx="1569.2" cy="399.2" r="4.2"/>
<circle cx="1569.2" cy="400.9" r="4.2"/>
<circle cx="1569.2" cy="402.7" r="4.2"/>
<circle cx="1569.2" cy="404.3" r="4.2"/>
<circle cx="1569.2" cy="406.1" r="4.2"/>
<circle cx="1569.2" cy="408.4" r="4.2"/>
<circle cx="1569.2" cy="410.3" r="4.2"/>
<circle cx="1569.2" cy="412.1" r="4.2"/>
<circle cx="1569.2" cy="414.0" r="4.2"/>
<circle cx="1569.2" cy="416.7" r="4.2"/>
<circle cx="1569.2" cy="418.0" r="4.2"/>
<circle cx="1569.2" cy="419.5" r="4.2"/>
<circle cx="1569.2" cy="421.3" r="4.2"/>
<circle cx="1569.2" cy="424.0" r="4.2"/>
<circle cx="1569.2" cy="426.0" r="4.2"/>
<circle cx="1569.2" cy="427.6" r="4.2"/>
</g>
<g fill="#4a84c4">
<circle cx="1605.1" cy="352.4" r="4.2"/>
<circle cx="1605.1" cy="377.0" r="4.2"/>
<circle cx="1605.1" cy="382.0" r="4.2"/>
<circle cx="1605.1" cy="427.6" r="4.2"/>
<circle cx="1605.1" cy="433.6" r="4.2"/>
<circle cx="1605.1" cy="456.6" r="4.2"/>
<circle cx="1605.1" cy="395.8" r="4.2"/>
<circle cx="1605.1" cy="397.1" r="4.2"/>
<circle cx="1605.1" cy="398.0" r="4.2"/>
<circle cx="1605.1" cy="399.6" r="4.2"/>
<circle cx="1605.1" cy="401.1" r="4.2"/>
<circle cx="1605.1" cy="402.3" r="4.2"/>
<circle cx="1605.1" cy="403.6" r="4.2"/>
<circle cx="1605.1" cy="404.5" r="4.2"/>
<circle cx="1605.1" cy="406.4" r="4.2"/>
<circle cx="1605.1" cy="407.1" r="4.2"/>
<circle cx="1605.1" cy="408.8" r="4.2"/>
<circle cx="1605.1" cy="410.2" r="4.2"/>
<circle cx="1605.1" cy="411.1" r="4.2"/>
<circle cx="1605.1" cy="412.9" r="4.2"/>
<circle cx="1605.1" cy="413.8" r="4.2"/>
<circle cx="1605.1" cy="414.8" r="4.2"/>
<circle cx="1605.1" cy="416.2" r="4.2"/>
<circle cx="1605.1" cy="417.5" r="4.2"/>
<circle cx="1605.1" cy="419.0" r="4.2"/>
</g>
<g fill="#4a84c4">
<circle cx="1641.0" cy="351.2" r="4.2"/>
<circle cx="1641.0" cy="354.6" r="4.2"/>
<circle cx="1641.0" cy="377.8" r="4.2"/>
<circle cx="1641.0" cy="384.6" r="4.2"/>
<circle cx="1641.0" cy="430.0" r="4.2"/>
<circle cx="1641.0" cy="437.0" r="4.2"/>
<circle cx="1641.0" cy="461.8" r="4.2"/>
<circle cx="1641.0" cy="400.0" r="4.2"/>
<circle cx="1641.0" cy="401.3" r="4.2"/>
<circle cx="1641.0" cy="402.8" r="4.2"/>
<circle cx="1641.0" cy="403.6" r="4.2"/>
<circle cx="1641.0" cy="404.8" r="4.2"/>
<circle cx="1641.0" cy="406.0" r="4.2"/>
<circle cx="1641.0" cy="407.5" r="4.2"/>
<circle cx="1641.0" cy="409.3" r="4.2"/>
<circle cx="1641.0" cy="410.2" r="4.2"/>
<circle cx="1641.0" cy="411.7" r="4.2"/>
<circle cx="1641.0" cy="412.4" r="4.2"/>
<circle cx="1641.0" cy="414.1" r="4.2"/>
<circle cx="1641.0" cy="415.6" r="4.2"/>
<circle cx="1641.0" cy="416.7" r="4.2"/>
<circle cx="1641.0" cy="418.1" r="4.2"/>
<circle cx="1641.0" cy="419.1" r="4.2"/>
<circle cx="1641.0" cy="420.2" r="4.2"/>
<circle cx="1641.0" cy="421.6" r="4.2"/>
</g>
<g fill="#4a84c4">
<circle cx="1676.8" cy="348.6" r="4.2"/>
<circle cx="1676.8" cy="353.0" r="4.2"/>
<circle cx="1676.8" cy="375.2" r="4.2"/>
<circle cx="1676.8" cy="381.2" r="4.2"/>
<circle cx="1676.8" cy="431.8" r="4.2"/>
<circle cx="1676.8" cy="435.2" r="4.2"/>
<circle cx="1676.8" cy="463.2" r="4.2"/>
<circle cx="1676.8" cy="399.2" r="4.2"/>
<circle cx="1676.8" cy="400.2" r="4.2"/>
<circle cx="1676.8" cy="401.6" r="4.2"/>
<circle cx="1676.8" cy="403.0" r="4.2"/>
<circle cx="1676.8" cy="404.5" r="4.2"/>
<circle cx="1676.8" cy="405.7" r="4.2"/>
<circle cx="1676.8" cy="406.7" r="4.2"/>
<circle cx="1676.8" cy="407.8" r="4.2"/>
<circle cx="1676.8" cy="409.2" r="4.2"/>
<circle cx="1676.8" cy="410.5" r="4.2"/>
<circle cx="1676.8" cy="411.8" r="4.2"/>
<circle cx="1676.8" cy="413.2" r="4.2"/>
<circle cx="1676.8" cy="414.2" r="4.2"/>
<circle cx="1676.8" cy="415.8" r="4.2"/>
<circle cx="1676.8" cy="416.7" r="4.2"/>
<circle cx="1676.8" cy="418.3" r="4.2"/>
<circle cx="1676.8" cy="419.0" r="4.2"/>
<circle cx="1676.8" cy="420.6" r="4.2"/>
</g>
<g fill="#4a84c4">
<circle cx="1712.7" cy="348.6" r="4.2"/>
<circle cx="1712.7" cy="355.4" r="4.2"/>
<circle cx="1712.7" cy="374.0" r="4.2"/>
<circle cx="1712.7" cy="385.0" r="4.2"/>
<circle cx="1712.7" cy="427.6" r="4.2"/>
<circle cx="1712.7" cy="436.2" r="4.2"/>
<circle cx="1712.7" cy="461.4" r="4.2"/>
<circle cx="1712.7" cy="465.2" r="4.2"/>
<circle cx="1712.7" cy="469.0" r="4.2"/>
<circle cx="1712.7" cy="398.4" r="4.2"/>
<circle cx="1712.7" cy="399.6" r="4.2"/>
<circle cx="1712.7" cy="401.6" r="4.2"/>
<circle cx="1712.7" cy="403.4" r="4.2"/>
<circle cx="1712.7" cy="404.6" r="4.2"/>
<circle cx="1712.7" cy="406.2" r="4.2"/>
<circle cx="1712.7" cy="407.6" r="4.2"/>
<circle cx="1712.7" cy="410.1" r="4.2"/>
<circle cx="1712.7" cy="411.3" r="4.2"/>
<circle cx="1712.7" cy="412.8" r="4.2"/>
<circle cx="1712.7" cy="414.1" r="4.2"/>
<circle cx="1712.7" cy="416.1" r="4.2"/>
<circle cx="1712.7" cy="417.2" r="4.2"/>
<circle cx="1712.7" cy="419.3" r="4.2"/>
<circle cx="1712.7" cy="420.8" r="4.2"/>
<circle cx="1712.7" cy="422.4" r="4.2"/>
</g>
<g fill="#4a84c4">
<circle cx="1748.5" cy="344.4" r="4.2"/>
<circle cx="1748.5" cy="355.4" r="4.2"/>
<circle cx="1748.5" cy="374.0" r="4.2"/>
<circle cx="1748.5" cy="385.6" r="4.2"/>
<circle cx="1748.5" cy="460.2" r="4.2"/>
<circle cx="1748.5" cy="465.0" r="4.2"/>
<circle cx="1748.5" cy="469.6" r="4.2"/>
<circle cx="1748.5" cy="396.6" r="4.2"/>
<circle cx="1748.5" cy="399.2" r="4.2"/>
<circle cx="1748.5" cy="400.5" r="4.2"/>
<circle cx="1748.5" cy="402.5" r="4.2"/>
<circle cx="1748.5" cy="405.8" r="4.2"/>
<circle cx="1748.5" cy="407.5" r="4.2"/>
<circle cx="1748.5" cy="409.4" r="4.2"/>
<circle cx="1748.5" cy="411.9" r="4.2"/>
<circle cx="1748.5" cy="413.8" r="4.2"/>
<circle cx="1748.5" cy="423.2" r="4.2"/>
<circle cx="1748.5" cy="425.9" r="4.2"/>
<circle cx="1748.5" cy="427.2" r="4.2"/>
<circle cx="1748.5" cy="429.8" r="4.2"/>
<circle cx="1748.5" cy="432.4" r="4.2"/>
<circle cx="1748.5" cy="434.0" r="4.2"/>
<circle cx="1748.5" cy="436.7" r="4.2"/>
<circle cx="1748.5" cy="438.1" r="4.2"/>
<circle cx="1748.5" cy="440.4" r="4.2"/>
</g>
<g fill="#4a84c4">
<circle cx="1784.3" cy="342.6" r="4.2"/>
<circle cx="1784.3" cy="356.6" r="4.2"/>
<circle cx="1784.3" cy="370.4" r="4.2"/>
<circle cx="1784.3" cy="375.6" r="4.2"/>
<circle cx="1784.3" cy="384.6" r="4.2"/>
<circle cx="1784.3" cy="424.8" r="4.2"/>
<circle cx="1784.3" cy="437.2" r="4.2"/>
<circle cx="1784.3" cy="442.4" r="4.2"/>
<circle cx="1784.3" cy="459.2" r="4.2"/>
<circle cx="1784.3" cy="466.0" r="4.2"/>
<circle cx="1784.3" cy="474.2" r="4.2"/>
<circle cx="1784.3" cy="393.6" r="4.2"/>
<circle cx="1784.3" cy="394.8" r="4.2"/>
<circle cx="1784.3" cy="396.9" r="4.2"/>
<circle cx="1784.3" cy="398.2" r="4.2"/>
<circle cx="1784.3" cy="399.8" r="4.2"/>
<circle cx="1784.3" cy="400.8" r="4.2"/>
<circle cx="1784.3" cy="402.3" r="4.2"/>
<circle cx="1784.3" cy="403.8" r="4.2"/>
<circle cx="1784.3" cy="405.5" r="4.2"/>
<circle cx="1784.3" cy="406.8" r="4.2"/>
<circle cx="1784.3" cy="407.8" r="4.2"/>
<circle cx="1784.3" cy="409.4" r="4.2"/>
<circle cx="1784.3" cy="411.3" r="4.2"/>
<circle cx="1784.3" cy="412.4" r="4.2"/>
</g>
<g fill="#4a84c4">
<circle cx="1820.2" cy="340.6" r="4.2"/>
<circle cx="1820.2" cy="356.6" r="4.2"/>
<circle cx="1820.2" cy="368.6" r="4.2"/>
<circle cx="1820.2" cy="372.2" r="4.2"/>
<circle cx="1820.2" cy="386.4" r="4.2"/>
<circle cx="1820.2" cy="423.6" r="4.2"/>
<circle cx="1820.2" cy="436.0" r="4.2"/>
<circle cx="1820.2" cy="438.6" r="4.2"/>
<circle cx="1820.2" cy="458.0" r="4.2"/>
<circle cx="1820.2" cy="467.0" r="4.2"/>
<circle cx="1820.2" cy="475.0" r="4.2"/>
<circle cx="1820.2" cy="395.2" r="4.2"/>
<circle cx="1820.2" cy="396.3" r="4.2"/>
<circle cx="1820.2" cy="397.9" r="4.2"/>
<circle cx="1820.2" cy="399.3" r="4.2"/>
<circle cx="1820.2" cy="400.8" r="4.2"/>
<circle cx="1820.2" cy="402.4" r="4.2"/>
<circle cx="1820.2" cy="403.5" r="4.2"/>
<circle cx="1820.2" cy="405.1" r="4.2"/>
<circle cx="1820.2" cy="405.9" r="4.2"/>
<circle cx="1820.2" cy="407.7" r="4.2"/>
<circle cx="1820.2" cy="408.6" r="4.2"/>
<circle cx="1820.2" cy="410.3" r="4.2"/>
<circle cx="1820.2" cy="412.0" r="4.2"/>
<circle cx="1820.2" cy="413.0" r="4.2"/>
</g>
<g fill="#4a84c4">
<circle cx="1856.1" cy="335.8" r="4.2"/>
<circle cx="1856.1" cy="354.8" r="4.2"/>
<circle cx="1856.1" cy="366.0" r="4.2"/>
<circle cx="1856.1" cy="370.4" r="4.2"/>
<circle cx="1856.1" cy="381.8" r="4.2"/>
<circle cx="1856.1" cy="421.8" r="4.2"/>
<circle cx="1856.1" cy="431.2" r="4.2"/>
<circle cx="1856.1" cy="439.4" r="4.2"/>
<circle cx="1856.1" cy="459.0" r="4.2"/>
<circle cx="1856.1" cy="465.2" r="4.2"/>
<circle cx="1856.1" cy="475.4" r="4.2"/>
<circle cx="1856.1" cy="396.0" r="4.2"/>
<circle cx="1856.1" cy="397.8" r="4.2"/>
<circle cx="1856.1" cy="399.0" r="4.2"/>
<circle cx="1856.1" cy="400.8" r="4.2"/>
<circle cx="1856.1" cy="402.2" r="4.2"/>
<circle cx="1856.1" cy="403.9" r="4.2"/>
<circle cx="1856.1" cy="405.1" r="4.2"/>
<circle cx="1856.1" cy="406.6" r="4.2"/>
<circle cx="1856.1" cy="408.5" r="4.2"/>
<circle cx="1856.1" cy="409.9" r="4.2"/>
<circle cx="1856.1" cy="410.9" r="4.2"/>
<circle cx="1856.1" cy="412.4" r="4.2"/>
<circle cx="1856.1" cy="414.4" r="4.2"/>
<circle cx="1856.1" cy="415.6" r="4.2"/>
</g>
<g fill="#4a84c4">
<circle cx="1891.9" cy="335.2" r="4.2"/>
<circle cx="1891.9" cy="357.4" r="4.2"/>
<circle cx="1891.9" cy="362.0" r="4.2"/>
<circle cx="1891.9" cy="366.0" r="4.2"/>
<circle cx="1891.9" cy="382.2" r="4.2"/>
<circle cx="1891.9" cy="419.2" r="4.2"/>
<circle cx="1891.9" cy="423.6" r="4.2"/>
<circle cx="1891.9" cy="456.4" r="4.2"/>
<circle cx="1891.9" cy="466.6" r="4.2"/>
<circle cx="1891.9" cy="480.2" r="4.2"/>
<circle cx="1891.9" cy="398.8" r="4.2"/>
<circle cx="1891.9" cy="400.1" r="4.2"/>
<circle cx="1891.9" cy="402.1" r="4.2"/>
<circle cx="1891.9" cy="403.4" r="4.2"/>
<circle cx="1891.9" cy="405.3" r="4.2"/>
<circle cx="1891.9" cy="407.3" r="4.2"/>
<circle cx="1891.9" cy="408.5" r="4.2"/>
<circle cx="1891.9" cy="410.2" r="4.2"/>
<circle cx="1891.9" cy="433.2" r="4.2"/>
<circle cx="1891.9" cy="434.9" r="4.2"/>
<circle cx="1891.9" cy="436.4" r="4.2"/>
<circle cx="1891.9" cy="437.4" r="4.2"/>
<circle cx="1891.9" cy="439.3" r="4.2"/>
<circle cx="1891.9" cy="441.1" r="4.2"/>
<circle cx="1891.9" cy="442.2" r="4.2"/>
</g>
<g fill="#4a84c4">
<circle cx="1927.8" cy="331.4" r="4.2"/>
<circle cx="1927.8" cy="358.8" r="4.2"/>
<circle cx="1927.8" cy="363.8" r="4.2"/>
<circle cx="1927.8" cy="381.6" r="4.2"/>
<circle cx="1927.8" cy="420.8" r="4.2"/>
<circle cx="1927.8" cy="428.0" r="4.2"/>
<circle cx="1927.8" cy="439.4" r="4.2"/>
<circle cx="1927.8" cy="444.8" r="4.2"/>
<circle cx="1927.8" cy="459.0" r="4.2"/>
<circle cx="1927.8" cy="465.2" r="4.2"/>
<circle cx="1927.8" cy="478.4" r="4.2"/>
<circle cx="1927.8" cy="395.2" r="4.2"/>
<circle cx="1927.8" cy="396.5" r="4.2"/>
<circle cx="1927.8" cy="397.2" r="4.2"/>
<circle cx="1927.8" cy="399.0" r="4.2"/>
<circle cx="1927.8" cy="399.5" r="4.2"/>
<circle cx="1927.8" cy="401.3" r="4.2"/>
<circle cx="1927.8" cy="402.3" r="4.2"/>
<circle cx="1927.8" cy="403.5" r="4.2"/>
<circle cx="1927.8" cy="404.1" r="4.2"/>
<circle cx="1927.8" cy="405.9" r="4.2"/>
<circle cx="1927.8" cy="407.0" r="4.2"/>
<circle cx="1927.8" cy="408.0" r="4.2"/>
<circle cx="1927.8" cy="409.2" r="4.2"/>
<circle cx="1927.8" cy="410.2" r="4.2"/>
</g>
<g fill="#4a84c4">
<circle cx="1963.6" cy="328.8" r="4.2"/>
<circle cx="1963.6" cy="357.4" r="4.2"/>
<circle cx="1963.6" cy="363.8" r="4.2"/>
<circle cx="1963.6" cy="378.6" r="4.2"/>
<circle cx="1963.6" cy="420.8" r="4.2"/>
<circle cx="1963.6" cy="426.2" r="4.2"/>
<circle cx="1963.6" cy="441.2" r="4.2"/>
<circle cx="1963.6" cy="447.4" r="4.2"/>
<circle cx="1963.6" cy="466.0" r="4.2"/>
<circle cx="1963.6" cy="481.6" r="4.2"/>
<circle cx="1963.6" cy="396.0" r="4.2"/>
<circle cx="1963.6" cy="396.7" r="4.2"/>
<circle cx="1963.6" cy="397.8" r="4.2"/>
<circle cx="1963.6" cy="398.7" r="4.2"/>
<circle cx="1963.6" cy="400.1" r="4.2"/>
<circle cx="1963.6" cy="400.9" r="4.2"/>
<circle cx="1963.6" cy="401.5" r="4.2"/>
<circle cx="1963.6" cy="402.8" r="4.2"/>
<circle cx="1963.6" cy="403.8" r="4.2"/>
<circle cx="1963.6" cy="404.3" r="4.2"/>
<circle cx="1963.6" cy="405.8" r="4.2"/>
<circle cx="1963.6" cy="406.3" r="4.2"/>
<circle cx="1963.6" cy="407.2" r="4.2"/>
<circle cx="1963.6" cy="408.3" r="4.2"/>
<circle cx="1963.6" cy="409.4" r="4.2"/>
</g>
<g fill="#4a84c4">
<circle cx="1999.5" cy="328.2" r="4.2"/>
<circle cx="1999.5" cy="353.0" r="4.2"/>
<circle cx="1999.5" cy="361.4" r="4.2"/>
<circle cx="1999.5" cy="364.2" r="4.2"/>
<circle cx="1999.5" cy="379.2" r="4.2"/>
<circle cx="1999.5" cy="420.0" r="4.2"/>
<circle cx="1999.5" cy="430.0" r="4.2"/>
<circle cx="1999.5" cy="439.0" r="4.2"/>
<circle cx="1999.5" cy="451.4" r="4.2"/>
<circle cx="1999.5" cy="464.6" r="4.2"/>
<circle cx="1999.5" cy="481.4" r="4.2"/>
<circle cx="1999.5" cy="394.2" r="4.2"/>
<circle cx="1999.5" cy="395.1" r="4.2"/>
<circle cx="1999.5" cy="396.9" r="4.2"/>
<circle cx="1999.5" cy="397.6" r="4.2"/>
<circle cx="1999.5" cy="398.9" r="4.2"/>
<circle cx="1999.5" cy="400.7" r="4.2"/>
<circle cx="1999.5" cy="401.2" r="4.2"/>
<circle cx="1999.5" cy="402.8" r="4.2"/>
<circle cx="1999.5" cy="404.2" r="4.2"/>
<circle cx="1999.5" cy="405.2" r="4.2"/>
<circle cx="1999.5" cy="406.2" r="4.2"/>
<circle cx="1999.5" cy="407.6" r="4.2"/>
<circle cx="1999.5" cy="408.9" r="4.2"/>
<circle cx="1999.5" cy="410.2" r="4.2"/>
</g>
<g fill="#4a84c4">
<circle cx="2035.3" cy="324.8" r="4.2"/>
<circle cx="2035.3" cy="352.2" r="4.2"/>
<circle cx="2035.3" cy="360.2" r="4.2"/>
<circle cx="2035.3" cy="378.8" r="4.2"/>
<circle cx="2035.3" cy="419.2" r="4.2"/>
<circle cx="2035.3" cy="431.6" r="4.2"/>
<circle cx="2035.3" cy="436.0" r="4.2"/>
<circle cx="2035.3" cy="450.2" r="4.2"/>
<circle cx="2035.3" cy="463.0" r="4.2"/>
<circle cx="2035.3" cy="482.0" r="4.2"/>
<circle cx="2035.3" cy="389.8" r="4.2"/>
<circle cx="2035.3" cy="391.0" r="4.2"/>
<circle cx="2035.3" cy="393.2" r="4.2"/>
<circle cx="2035.3" cy="395.0" r="4.2"/>
<circle cx="2035.3" cy="396.4" r="4.2"/>
<circle cx="2035.3" cy="397.6" r="4.2"/>
<circle cx="2035.3" cy="399.5" r="4.2"/>
<circle cx="2035.3" cy="401.7" r="4.2"/>
<circle cx="2035.3" cy="402.5" r="4.2"/>
<circle cx="2035.3" cy="404.5" r="4.2"/>
<circle cx="2035.3" cy="406.2" r="4.2"/>
<circle cx="2035.3" cy="407.9" r="4.2"/>
<circle cx="2035.3" cy="409.3" r="4.2"/>
<circle cx="2035.3" cy="411.2" r="4.2"/>
<circle cx="2035.3" cy="412.8" r="4.2"/>
</g>
<g fill="#4a84c4">
<circle cx="2071.2" cy="324.2" r="4.2"/>
<circle cx="2071.2" cy="351.8" r="4.2"/>
<circle cx="2071.2" cy="356.2" r="4.2"/>
<circle cx="2071.2" cy="362.8" r="4.2"/>
<circle cx="2071.2" cy="377.0" r="4.2"/>
<circle cx="2071.2" cy="386.4" r="4.2"/>
<circle cx="2071.2" cy="419.2" r="4.2"/>
<circle cx="2071.2" cy="434.2" r="4.2"/>
<circle cx="2071.2" cy="437.4" r="4.2"/>
<circle cx="2071.2" cy="449.6" r="4.2"/>
<circle cx="2071.2" cy="461.6" r="4.2"/>
<circle cx="2071.2" cy="485.6" r="4.2"/>
<circle cx="2071.2" cy="396.0" r="4.2"/>
<circle cx="2071.2" cy="397.5" r="4.2"/>
<circle cx="2071.2" cy="398.8" r="4.2"/>
<circle cx="2071.2" cy="399.9" r="4.2"/>
<circle cx="2071.2" cy="401.3" r="4.2"/>
<circle cx="2071.2" cy="402.8" r="4.2"/>
<circle cx="2071.2" cy="404.1" r="4.2"/>
<circle cx="2071.2" cy="405.7" r="4.2"/>
<circle cx="2071.2" cy="406.9" r="4.2"/>
<circle cx="2071.2" cy="407.7" r="4.2"/>
<circle cx="2071.2" cy="409.7" r="4.2"/>
<circle cx="2071.2" cy="410.5" r="4.2"/>
<circle cx="2071.2" cy="412.0" r="4.2"/>
</g>
<path class="ax" d="M1187.0 106.9V708.8H2100.0"/>
<line class="ax" x1="1175.5" y1="109.0" x2="1187.0" y2="109.0"/>
<text class="t" x="1172.5" y="121.6" text-anchor="end">150</text>
<line class="ax" x1="1175.5" y1="209.0" x2="1187.0" y2="209.0"/>
<text class="t" x="1172.5" y="221.6" text-anchor="end">100</text>
<line class="ax" x1="1175.5" y1="309.0" x2="1187.0" y2="309.0"/>
<text class="t" x="1172.5" y="321.6" text-anchor="end">50</text>
<line class="ax" x1="1175.5" y1="409.0" x2="1187.0" y2="409.0"/>
<text class="t" x="1172.5" y="421.6" text-anchor="end">0</text>
<line class="ax" x1="1175.5" y1="509.0" x2="1187.0" y2="509.0"/>
<text class="t" x="1172.5" y="521.6" text-anchor="end">-50</text>
<line class="ax" x1="1175.5" y1="609.0" x2="1187.0" y2="609.0"/>
<text class="t" x="1172.5" y="621.6" text-anchor="end">-100</text>
<line class="ax" x1="1175.5" y1="709.0" x2="1187.0" y2="709.0"/>
<text class="t" x="1172.5" y="721.6" text-anchor="end">-150</text>
<text class="tt" transform="translate(1084.5,400.5) rotate(-90)" text-anchor="middle">x-shift error [nm]</text>
<text class="tt" x="1643" y="751.5" text-anchor="middle">tilt series</text>
<line x1="138.3" y1="1286.9" x2="1041" y2="1286.9" stroke="#000" stroke-width="3.3" stroke-linecap="round" stroke-dasharray="0.01 7.68"/>
<g fill="#a6a6a6">
<circle cx="155.1" cy="1158.4" r="4.2"/>
<circle cx="155.1" cy="1227.6" r="4.2"/>
<circle cx="155.1" cy="1237.9" r="4.2"/>
<circle cx="155.1" cy="1244.3" r="4.2"/>
<circle cx="155.1" cy="1341.8" r="4.2"/>
<circle cx="155.1" cy="1349.9" r="4.2"/>
<circle cx="155.1" cy="1356.9" r="4.2"/>
<circle cx="155.1" cy="1376.5" r="4.2"/>
<circle cx="155.1" cy="1381.7" r="4.2"/>
<circle cx="155.1" cy="1389.2" r="4.2"/>
<circle cx="155.1" cy="1270.2" r="4.2"/>
<circle cx="155.1" cy="1272.8" r="4.2"/>
<circle cx="155.1" cy="1275.2" r="4.2"/>
<circle cx="155.1" cy="1278.0" r="4.2"/>
<circle cx="155.1" cy="1280.3" r="4.2"/>
<circle cx="155.1" cy="1282.1" r="4.2"/>
<circle cx="155.1" cy="1285.0" r="4.2"/>
<circle cx="155.1" cy="1288.2" r="4.2"/>
<circle cx="155.1" cy="1290.7" r="4.2"/>
<circle cx="155.1" cy="1293.1" r="4.2"/>
<circle cx="155.1" cy="1295.7" r="4.2"/>
<circle cx="155.1" cy="1297.4" r="4.2"/>
<circle cx="155.1" cy="1300.2" r="4.2"/>
<circle cx="155.1" cy="1303.6" r="4.2"/>
<circle cx="155.1" cy="1305.5" r="4.2"/>
</g>
<g fill="#d02a2a">
<circle cx="190.9" cy="1249.8" r="4.2"/>
<circle cx="190.9" cy="1265.7" r="4.2"/>
<circle cx="190.9" cy="1304.7" r="4.2"/>
<circle cx="190.9" cy="1322.8" r="4.2"/>
<circle cx="190.9" cy="1275.4" r="4.2"/>
<circle cx="190.9" cy="1276.3" r="4.2"/>
<circle cx="190.9" cy="1277.1" r="4.2"/>
<circle cx="190.9" cy="1278.4" r="4.2"/>
<circle cx="190.9" cy="1279.6" r="4.2"/>
<circle cx="190.9" cy="1280.4" r="4.2"/>
<circle cx="190.9" cy="1281.4" r="4.2"/>
<circle cx="190.9" cy="1282.2" r="4.2"/>
<circle cx="190.9" cy="1283.1" r="4.2"/>
<circle cx="190.9" cy="1284.0" r="4.2"/>
<circle cx="190.9" cy="1285.2" r="4.2"/>
<circle cx="190.9" cy="1286.3" r="4.2"/>
<circle cx="190.9" cy="1287.3" r="4.2"/>
<circle cx="190.9" cy="1287.9" r="4.2"/>
<circle cx="190.9" cy="1288.9" r="4.2"/>
<circle cx="190.9" cy="1290.1" r="4.2"/>
<circle cx="190.9" cy="1291.1" r="4.2"/>
<circle cx="190.9" cy="1292.0" r="4.2"/>
<circle cx="190.9" cy="1292.8" r="4.2"/>
<circle cx="190.9" cy="1293.9" r="4.2"/>
<circle cx="190.9" cy="1295.0" r="4.2"/>
</g>
<g fill="#d02a2a">
<circle cx="226.8" cy="1266.5" r="4.2"/>
<circle cx="226.8" cy="1267.7" r="4.2"/>
<circle cx="226.8" cy="1269.4" r="4.2"/>
<circle cx="226.8" cy="1271.4" r="4.2"/>
<circle cx="226.8" cy="1272.8" r="4.2"/>
<circle cx="226.8" cy="1274.8" r="4.2"/>
<circle cx="226.8" cy="1276.3" r="4.2"/>
<circle cx="226.8" cy="1278.2" r="4.2"/>
<circle cx="226.8" cy="1279.9" r="4.2"/>
<circle cx="226.8" cy="1281.1" r="4.2"/>
<circle cx="226.8" cy="1283.0" r="4.2"/>
<circle cx="226.8" cy="1283.9" r="4.2"/>
<circle cx="226.8" cy="1286.0" r="4.2"/>
<circle cx="226.8" cy="1288.1" r="4.2"/>
<circle cx="226.8" cy="1288.9" r="4.2"/>
<circle cx="226.8" cy="1290.9" r="4.2"/>
<circle cx="226.8" cy="1292.7" r="4.2"/>
<circle cx="226.8" cy="1294.2" r="4.2"/>
<circle cx="226.8" cy="1296.1" r="4.2"/>
<circle cx="226.8" cy="1297.0" r="4.2"/>
<circle cx="226.8" cy="1299.2" r="4.2"/>
<circle cx="226.8" cy="1300.7" r="4.2"/>
<circle cx="226.8" cy="1302.4" r="4.2"/>
<circle cx="226.8" cy="1303.7" r="4.2"/>
<circle cx="226.8" cy="1305.5" r="4.2"/>
</g>
<g fill="#d02a2a">
<circle cx="262.6" cy="1269.1" r="4.2"/>
<circle cx="262.6" cy="1271.5" r="4.2"/>
<circle cx="262.6" cy="1272.4" r="4.2"/>
<circle cx="262.6" cy="1274.8" r="4.2"/>
<circle cx="262.6" cy="1276.9" r="4.2"/>
<circle cx="262.6" cy="1278.7" r="4.2"/>
<circle cx="262.6" cy="1280.3" r="4.2"/>
<circle cx="262.6" cy="1281.7" r="4.2"/>
<circle cx="262.6" cy="1283.6" r="4.2"/>
<circle cx="262.6" cy="1286.2" r="4.2"/>
<circle cx="262.6" cy="1287.5" r="4.2"/>
<circle cx="262.6" cy="1289.3" r="4.2"/>
<circle cx="262.6" cy="1291.7" r="4.2"/>
<circle cx="262.6" cy="1293.1" r="4.2"/>
<circle cx="262.6" cy="1294.9" r="4.2"/>
<circle cx="262.6" cy="1297.2" r="4.2"/>
<circle cx="262.6" cy="1298.5" r="4.2"/>
<circle cx="262.6" cy="1301.0" r="4.2"/>
<circle cx="262.6" cy="1302.2" r="4.2"/>
<circle cx="262.6" cy="1304.3" r="4.2"/>
<circle cx="262.6" cy="1306.2" r="4.2"/>
<circle cx="262.6" cy="1308.2" r="4.2"/>
<circle cx="262.6" cy="1310.3" r="4.2"/>
<circle cx="262.6" cy="1311.9" r="4.2"/>
<circle cx="262.6" cy="1313.5" r="4.2"/>
</g>
<g fill="#d02a2a">
<circle cx="298.5" cy="1223.5" r="4.2"/>
<circle cx="298.5" cy="1253.6" r="4.2"/>
<circle cx="298.5" cy="1262.1" r="4.2"/>
<circle cx="298.5" cy="1265.7" r="4.2"/>
<circle cx="298.5" cy="1313.5" r="4.2"/>
<circle cx="298.5" cy="1319.6" r="4.2"/>
<circle cx="298.5" cy="1328.9" r="4.2"/>
<circle cx="298.5" cy="1352.5" r="4.2"/>
<circle cx="298.5" cy="1357.7" r="4.2"/>
<circle cx="298.5" cy="1273.6" r="4.2"/>
<circle cx="298.5" cy="1275.1" r="4.2"/>
<circle cx="298.5" cy="1277.4" r="4.2"/>
<circle cx="298.5" cy="1280.1" r="4.2"/>
<circle cx="298.5" cy="1281.6" r="4.2"/>
<circle cx="298.5" cy="1284.5" r="4.2"/>
<circle cx="298.5" cy="1286.0" r="4.2"/>
<circle cx="298.5" cy="1288.0" r="4.2"/>
<circle cx="298.5" cy="1290.7" r="4.2"/>
<circle cx="298.5" cy="1292.3" r="4.2"/>
<circle cx="298.5" cy="1295.2" r="4.2"/>
<circle cx="298.5" cy="1296.6" r="4.2"/>
<circle cx="298.5" cy="1299.5" r="4.2"/>
<circle cx="298.5" cy="1301.8" r="4.2"/>
<circle cx="298.5" cy="1303.9" r="4.2"/>
<circle cx="298.5" cy="1305.5" r="4.2"/>
</g>
<g fill="#d02a2a">
<circle cx="334.4" cy="1245.5" r="4.2"/>
<circle cx="334.4" cy="1256.8" r="4.2"/>
<circle cx="334.4" cy="1309.9" r="4.2"/>
<circle cx="334.4" cy="1318.8" r="4.2"/>
<circle cx="334.4" cy="1330.3" r="4.2"/>
<circle cx="334.4" cy="1335.7" r="4.2"/>
<circle cx="334.4" cy="1262.1" r="4.2"/>
<circle cx="334.4" cy="1263.3" r="4.2"/>
<circle cx="334.4" cy="1265.1" r="4.2"/>
<circle cx="334.4" cy="1267.1" r="4.2"/>
<circle cx="334.4" cy="1268.2" r="4.2"/>
<circle cx="334.4" cy="1270.1" r="4.2"/>
<circle cx="334.4" cy="1271.8" r="4.2"/>
<circle cx="334.4" cy="1281.7" r="4.2"/>
<circle cx="334.4" cy="1282.9" r="4.2"/>
<circle cx="334.4" cy="1285.5" r="4.2"/>
<circle cx="334.4" cy="1286.2" r="4.2"/>
<circle cx="334.4" cy="1288.5" r="4.2"/>
<circle cx="334.4" cy="1290.1" r="4.2"/>
<circle cx="334.4" cy="1291.8" r="4.2"/>
<circle cx="334.4" cy="1293.0" r="4.2"/>
<circle cx="334.4" cy="1295.0" r="4.2"/>
<circle cx="334.4" cy="1296.7" r="4.2"/>
<circle cx="334.4" cy="1298.4" r="4.2"/>
<circle cx="334.4" cy="1300.2" r="4.2"/>
</g>
<g fill="#d02a2a">
<circle cx="370.2" cy="1307.3" r="4.2"/>
<circle cx="370.2" cy="1312.5" r="4.2"/>
<circle cx="370.2" cy="1318.0" r="4.2"/>
<circle cx="370.2" cy="1253.2" r="4.2"/>
<circle cx="370.2" cy="1255.5" r="4.2"/>
<circle cx="370.2" cy="1256.8" r="4.2"/>
<circle cx="370.2" cy="1259.8" r="4.2"/>
<circle cx="370.2" cy="1261.8" r="4.2"/>
<circle cx="370.2" cy="1263.0" r="4.2"/>
<circle cx="370.2" cy="1265.1" r="4.2"/>
<circle cx="370.2" cy="1268.3" r="4.2"/>
<circle cx="370.2" cy="1270.3" r="4.2"/>
<circle cx="370.2" cy="1271.4" r="4.2"/>
<circle cx="370.2" cy="1273.3" r="4.2"/>
<circle cx="370.2" cy="1275.6" r="4.2"/>
<circle cx="370.2" cy="1278.2" r="4.2"/>
<circle cx="370.2" cy="1279.7" r="4.2"/>
<circle cx="370.2" cy="1281.9" r="4.2"/>
<circle cx="370.2" cy="1284.5" r="4.2"/>
<circle cx="370.2" cy="1286.1" r="4.2"/>
<circle cx="370.2" cy="1288.8" r="4.2"/>
<circle cx="370.2" cy="1290.6" r="4.2"/>
<circle cx="370.2" cy="1292.3" r="4.2"/>
<circle cx="370.2" cy="1294.5" r="4.2"/>
<circle cx="370.2" cy="1296.6" r="4.2"/>
</g>
<g fill="#d02a2a">
<circle cx="406.1" cy="1304.7" r="4.2"/>
<circle cx="406.1" cy="1309.1" r="4.2"/>
<circle cx="406.1" cy="1321.4" r="4.2"/>
<circle cx="406.1" cy="1325.0" r="4.2"/>
<circle cx="406.1" cy="1246.9" r="4.2"/>
<circle cx="406.1" cy="1248.8" r="4.2"/>
<circle cx="406.1" cy="1252.4" r="4.2"/>
<circle cx="406.1" cy="1254.0" r="4.2"/>
<circle cx="406.1" cy="1256.9" r="4.2"/>
<circle cx="406.1" cy="1258.6" r="4.2"/>
<circle cx="406.1" cy="1261.8" r="4.2"/>
<circle cx="406.1" cy="1264.6" r="4.2"/>
<circle cx="406.1" cy="1266.7" r="4.2"/>
<circle cx="406.1" cy="1269.2" r="4.2"/>
<circle cx="406.1" cy="1271.1" r="4.2"/>
<circle cx="406.1" cy="1273.9" r="4.2"/>
<circle cx="406.1" cy="1277.2" r="4.2"/>
<circle cx="406.1" cy="1279.1" r="4.2"/>
<circle cx="406.1" cy="1281.5" r="4.2"/>
<circle cx="406.1" cy="1284.0" r="4.2"/>
<circle cx="406.1" cy="1287.4" r="4.2"/>
<circle cx="406.1" cy="1289.6" r="4.2"/>
<circle cx="406.1" cy="1291.3" r="4.2"/>
<circle cx="406.1" cy="1293.9" r="4.2"/>
<circle cx="406.1" cy="1296.6" r="4.2"/>
</g>
<g fill="#d02a2a">
<circle cx="441.9" cy="1267.3" r="4.2"/>
<circle cx="441.9" cy="1296.2" r="4.2"/>
<circle cx="441.9" cy="1309.1" r="4.2"/>
<circle cx="441.9" cy="1315.2" r="4.2"/>
<circle cx="441.9" cy="1325.0" r="4.2"/>
<circle cx="441.9" cy="1341.4" r="4.2"/>
<circle cx="441.9" cy="1228.4" r="4.2"/>
<circle cx="441.9" cy="1230.8" r="4.2"/>
<circle cx="441.9" cy="1232.3" r="4.2"/>
<circle cx="441.9" cy="1233.9" r="4.2"/>
<circle cx="441.9" cy="1235.7" r="4.2"/>
<circle cx="441.9" cy="1238.3" r="4.2"/>
<circle cx="441.9" cy="1240.1" r="4.2"/>
<circle cx="441.9" cy="1242.3" r="4.2"/>
<circle cx="441.9" cy="1243.6" r="4.2"/>
<circle cx="441.9" cy="1246.1" r="4.2"/>
<circle cx="441.9" cy="1247.9" r="4.2"/>
<circle cx="441.9" cy="1249.6" r="4.2"/>
<circle cx="441.9" cy="1252.3" r="4.2"/>
<circle cx="441.9" cy="1253.7" r="4.2"/>
<circle cx="441.9" cy="1255.8" r="4.2"/>
<circle cx="441.9" cy="1279.8" r="4.2"/>
<circle cx="441.9" cy="1281.9" r="4.2"/>
<circle cx="441.9" cy="1283.9" r="4.2"/>
<circle cx="441.9" cy="1286.9" r="4.2"/>
</g>
<g fill="#d02a2a">
<circle cx="477.8" cy="1209.8" r="4.2"/>
<circle cx="477.8" cy="1211.6" r="4.2"/>
<circle cx="477.8" cy="1225.8" r="4.2"/>
<circle cx="477.8" cy="1233.6" r="4.2"/>
<circle cx="477.8" cy="1242.5" r="4.2"/>
<circle cx="477.8" cy="1248.8" r="4.2"/>
<circle cx="477.8" cy="1268.3" r="4.2"/>
<circle cx="477.8" cy="1298.4" r="4.2"/>
<circle cx="477.8" cy="1308.1" r="4.2"/>
<circle cx="477.8" cy="1324.0" r="4.2"/>
<circle cx="477.8" cy="1328.5" r="4.2"/>
<circle cx="477.8" cy="1363.2" r="4.2"/>
<circle cx="477.8" cy="1277.2" r="4.2"/>
<circle cx="477.8" cy="1278.2" r="4.2"/>
<circle cx="477.8" cy="1278.8" r="4.2"/>
<circle cx="477.8" cy="1279.6" r="4.2"/>
<circle cx="477.8" cy="1280.7" r="4.2"/>
<circle cx="477.8" cy="1281.8" r="4.2"/>
<circle cx="477.8" cy="1282.7" r="4.2"/>
<circle cx="477.8" cy="1283.2" r="4.2"/>
<circle cx="477.8" cy="1284.2" r="4.2"/>
<circle cx="477.8" cy="1284.9" r="4.2"/>
<circle cx="477.8" cy="1285.9" r="4.2"/>
<circle cx="477.8" cy="1286.6" r="4.2"/>
<circle cx="477.8" cy="1287.7" r="4.2"/>
</g>
<g fill="#d02a2a">
<circle cx="513.6" cy="1226.6" r="4.2"/>
<circle cx="513.6" cy="1314.3" r="4.2"/>
<circle cx="513.6" cy="1321.4" r="4.2"/>
<circle cx="513.6" cy="1332.1" r="4.2"/>
<circle cx="513.6" cy="1343.2" r="4.2"/>
<circle cx="513.6" cy="1232.8" r="4.2"/>
<circle cx="513.6" cy="1236.3" r="4.2"/>
<circle cx="513.6" cy="1238.6" r="4.2"/>
<circle cx="513.6" cy="1241.7" r="4.2"/>
<circle cx="513.6" cy="1243.7" r="4.2"/>
<circle cx="513.6" cy="1247.6" r="4.2"/>
<circle cx="513.6" cy="1250.3" r="4.2"/>
<circle cx="513.6" cy="1252.4" r="4.2"/>
<circle cx="513.6" cy="1260.3" r="4.2"/>
<circle cx="513.6" cy="1263.9" r="4.2"/>
<circle cx="513.6" cy="1267.4" r="4.2"/>
<circle cx="513.6" cy="1269.6" r="4.2"/>
<circle cx="513.6" cy="1272.8" r="4.2"/>
<circle cx="513.6" cy="1286.9" r="4.2"/>
<circle cx="513.6" cy="1290.0" r="4.2"/>
<circle cx="513.6" cy="1292.1" r="4.2"/>
<circle cx="513.6" cy="1295.7" r="4.2"/>
<circle cx="513.6" cy="1299.9" r="4.2"/>
<circle cx="513.6" cy="1302.0" r="4.2"/>
</g>
<g fill="#d02a2a">
<circle cx="549.5" cy="1329.9" r="4.2"/>
<circle cx="549.5" cy="1241.7" r="4.2"/>
<circle cx="549.5" cy="1244.0" r="4.2"/>
<circle cx="549.5" cy="1246.1" r="4.2"/>
<circle cx="549.5" cy="1249.2" r="4.2"/>
<circle cx="549.5" cy="1251.3" r="4.2"/>
<circle cx="549.5" cy="1254.6" r="4.2"/>
<circle cx="549.5" cy="1256.4" r="4.2"/>
<circle cx="549.5" cy="1259.8" r="4.2"/>
<circle cx="549.5" cy="1262.1" r="4.2"/>
<circle cx="549.5" cy="1271.8" r="4.2"/>
<circle cx="549.5" cy="1273.7" r="4.2"/>
<circle cx="549.5" cy="1277.1" r="4.2"/>
<circle cx="549.5" cy="1279.7" r="4.2"/>
<circle cx="549.5" cy="1281.9" r="4.2"/>
<circle cx="549.5" cy="1285.1" r="4.2"/>
<circle cx="549.5" cy="1297.6" r="4.2"/>
<circle cx="549.5" cy="1300.3" r="4.2"/>
<circle cx="549.5" cy="1302.6" r="4.2"/>
<circle cx="549.5" cy="1306.2" r="4.2"/>
<circle cx="549.5" cy="1308.6" r="4.2"/>
<circle cx="549.5" cy="1310.6" r="4.2"/>
<circle cx="549.5" cy="1313.5" r="4.2"/>
<circle cx="549.5" cy="1315.9" r="4.2"/>
<circle cx="549.5" cy="1318.8" r="4.2"/>
</g>
<g fill="#d02a2a">
<circle cx="585.3" cy="1242.1" r="4.2"/>
<circle cx="585.3" cy="1327.1" r="4.2"/>
<circle cx="585.3" cy="1343.2" r="4.2"/>
<circle cx="585.3" cy="1252.4" r="4.2"/>
<circle cx="585.3" cy="1255.5" r="4.2"/>
<circle cx="585.3" cy="1257.9" r="4.2"/>
<circle cx="585.3" cy="1261.5" r="4.2"/>
<circle cx="585.3" cy="1263.9" r="4.2"/>
<circle cx="585.3" cy="1275.4" r="4.2"/>
<circle cx="585.3" cy="1278.3" r="4.2"/>
<circle cx="585.3" cy="1280.6" r="4.2"/>
<circle cx="585.3" cy="1284.1" r="4.2"/>
<circle cx="585.3" cy="1285.5" r="4.2"/>
<circle cx="585.3" cy="1288.6" r="4.2"/>
<circle cx="585.3" cy="1291.4" r="4.2"/>
<circle cx="585.3" cy="1294.1" r="4.2"/>
<circle cx="585.3" cy="1296.7" r="4.2"/>
<circle cx="585.3" cy="1299.8" r="4.2"/>
<circle cx="585.3" cy="1301.9" r="4.2"/>
<circle cx="585.3" cy="1305.2" r="4.2"/>
<circle cx="585.3" cy="1307.9" r="4.2"/>
<circle cx="585.3" cy="1309.8" r="4.2"/>
<circle cx="585.3" cy="1313.4" r="4.2"/>
<circle cx="585.3" cy="1315.1" r="4.2"/>
<circle cx="585.3" cy="1318.0" r="4.2"/>
</g>
<g fill="#d02a2a">
<circle cx="621.1" cy="1243.1" r="4.2"/>
<circle cx="621.1" cy="1255.6" r="4.2"/>
<circle cx="621.1" cy="1266.9" r="4.2"/>
<circle cx="621.1" cy="1329.9" r="4.2"/>
<circle cx="621.1" cy="1342.8" r="4.2"/>
<circle cx="621.1" cy="1276.2" r="4.2"/>
<circle cx="621.1" cy="1277.6" r="4.2"/>
<circle cx="621.1" cy="1279.9" r="4.2"/>
<circle cx="621.1" cy="1281.3" r="4.2"/>
<circle cx="621.1" cy="1283.0" r="4.2"/>
<circle cx="621.1" cy="1284.9" r="4.2"/>
<circle cx="621.1" cy="1286.3" r="4.2"/>
<circle cx="621.1" cy="1288.5" r="4.2"/>
<circle cx="621.1" cy="1289.9" r="4.2"/>
<circle cx="621.1" cy="1291.8" r="4.2"/>
<circle cx="621.1" cy="1293.7" r="4.2"/>
<circle cx="621.1" cy="1295.0" r="4.2"/>
<circle cx="621.1" cy="1304.7" r="4.2"/>
<circle cx="621.1" cy="1306.8" r="4.2"/>
<circle cx="621.1" cy="1309.0" r="4.2"/>
<circle cx="621.1" cy="1309.8" r="4.2"/>
<circle cx="621.1" cy="1311.9" r="4.2"/>
<circle cx="621.1" cy="1314.5" r="4.2"/>
<circle cx="621.1" cy="1316.4" r="4.2"/>
<circle cx="621.1" cy="1318.0" r="4.2"/>
</g>
<g fill="#d02a2a">
<circle cx="657.0" cy="1237.3" r="4.2"/>
<circle cx="657.0" cy="1245.3" r="4.2"/>
<circle cx="657.0" cy="1295.8" r="4.2"/>
<circle cx="657.0" cy="1332.1" r="4.2"/>
<circle cx="657.0" cy="1335.7" r="4.2"/>
<circle cx="657.0" cy="1348.0" r="4.2"/>
<circle cx="657.0" cy="1255.8" r="4.2"/>
<circle cx="657.0" cy="1257.5" r="4.2"/>
<circle cx="657.0" cy="1260.5" r="4.2"/>
<circle cx="657.0" cy="1262.6" r="4.2"/>
<circle cx="657.0" cy="1264.3" r="4.2"/>
<circle cx="657.0" cy="1266.9" r="4.2"/>
<circle cx="657.0" cy="1269.4" r="4.2"/>
<circle cx="657.0" cy="1270.6" r="4.2"/>
<circle cx="657.0" cy="1273.5" r="4.2"/>
<circle cx="657.0" cy="1274.9" r="4.2"/>
<circle cx="657.0" cy="1277.7" r="4.2"/>
<circle cx="657.0" cy="1280.4" r="4.2"/>
<circle cx="657.0" cy="1282.3" r="4.2"/>
<circle cx="657.0" cy="1284.3" r="4.2"/>
<circle cx="657.0" cy="1309.1" r="4.2"/>
<circle cx="657.0" cy="1312.5" r="4.2"/>
<circle cx="657.0" cy="1313.6" r="4.2"/>
<circle cx="657.0" cy="1316.5" r="4.2"/>
<circle cx="657.0" cy="1319.6" r="4.2"/>
</g>
<g fill="#d02a2a">
<circle cx="692.9" cy="1200.3" r="4.2"/>
<circle cx="692.9" cy="1235.8" r="4.2"/>
<circle cx="692.9" cy="1350.7" r="4.2"/>
<circle cx="692.9" cy="1355.1" r="4.2"/>
<circle cx="692.9" cy="1364.8" r="4.2"/>
<circle cx="692.9" cy="1385.8" r="4.2"/>
<circle cx="692.9" cy="1250.6" r="4.2"/>
<circle cx="692.9" cy="1253.0" r="4.2"/>
<circle cx="692.9" cy="1255.2" r="4.2"/>
<circle cx="692.9" cy="1256.5" r="4.2"/>
<circle cx="692.9" cy="1258.6" r="4.2"/>
<circle cx="692.9" cy="1260.8" r="4.2"/>
<circle cx="692.9" cy="1262.9" r="4.2"/>
<circle cx="692.9" cy="1278.0" r="4.2"/>
<circle cx="692.9" cy="1280.7" r="4.2"/>
<circle cx="692.9" cy="1282.1" r="4.2"/>
<circle cx="692.9" cy="1284.9" r="4.2"/>
<circle cx="692.9" cy="1286.9" r="4.2"/>
<circle cx="692.9" cy="1309.1" r="4.2"/>
<circle cx="692.9" cy="1312.1" r="4.2"/>
<circle cx="692.9" cy="1314.4" r="4.2"/>
<circle cx="692.9" cy="1316.2" r="4.2"/>
<circle cx="692.9" cy="1326.9" r="4.2"/>
<circle cx="692.9" cy="1328.7" r="4.2"/>
<circle cx="692.9" cy="1332.3" r="4.2"/>
<circle cx="692.9" cy="1333.9" r="4.2"/>
</g>
<g fill="#d02a2a">
<circle cx="728.7" cy="1154.7" r="4.2"/>
<circle cx="728.7" cy="1224.5" r="4.2"/>
<circle cx="728.7" cy="1233.2" r="4.2"/>
<circle cx="728.7" cy="1245.7" r="4.2"/>
<circle cx="728.7" cy="1257.6" r="4.2"/>
<circle cx="728.7" cy="1265.1" r="4.2"/>
<circle cx="728.7" cy="1332.1" r="4.2"/>
<circle cx="728.7" cy="1338.8" r="4.2"/>
<circle cx="728.7" cy="1350.1" r="4.2"/>
<circle cx="728.7" cy="1375.5" r="4.2"/>
<circle cx="728.7" cy="1412.4" r="4.2"/>
<circle cx="728.7" cy="1433.4" r="4.2"/>
<circle cx="728.7" cy="1279.4" r="4.2"/>
<circle cx="728.7" cy="1280.5" r="4.2"/>
<circle cx="728.7" cy="1282.1" r="4.2"/>
<circle cx="728.7" cy="1283.4" r="4.2"/>
<circle cx="728.7" cy="1285.4" r="4.2"/>
<circle cx="728.7" cy="1286.5" r="4.2"/>
<circle cx="728.7" cy="1287.9" r="4.2"/>
<circle cx="728.7" cy="1289.7" r="4.2"/>
<circle cx="728.7" cy="1290.7" r="4.2"/>
<circle cx="728.7" cy="1316.2" r="4.2"/>
<circle cx="728.7" cy="1317.8" r="4.2"/>
<circle cx="728.7" cy="1320.4" r="4.2"/>
<circle cx="728.7" cy="1321.8" r="4.2"/>
</g>
<g fill="#d02a2a">
<circle cx="764.6" cy="1177.5" r="4.2"/>
<circle cx="764.6" cy="1228.8" r="4.2"/>
<circle cx="764.6" cy="1237.9" r="4.2"/>
<circle cx="764.6" cy="1249.2" r="4.2"/>
<circle cx="764.6" cy="1253.0" r="4.2"/>
<circle cx="764.6" cy="1314.3" r="4.2"/>
<circle cx="764.6" cy="1320.8" r="4.2"/>
<circle cx="764.6" cy="1331.3" r="4.2"/>
<circle cx="764.6" cy="1348.7" r="4.2"/>
<circle cx="764.6" cy="1363.4" r="4.2"/>
<circle cx="764.6" cy="1390.6" r="4.2"/>
<circle cx="764.6" cy="1407.6" r="4.2"/>
<circle cx="764.6" cy="1271.8" r="4.2"/>
<circle cx="764.6" cy="1273.2" r="4.2"/>
<circle cx="764.6" cy="1274.3" r="4.2"/>
<circle cx="764.6" cy="1275.6" r="4.2"/>
<circle cx="764.6" cy="1276.5" r="4.2"/>
<circle cx="764.6" cy="1278.3" r="4.2"/>
<circle cx="764.6" cy="1279.4" r="4.2"/>
<circle cx="764.6" cy="1280.9" r="4.2"/>
<circle cx="764.6" cy="1281.6" r="4.2"/>
<circle cx="764.6" cy="1283.5" r="4.2"/>
<circle cx="764.6" cy="1284.2" r="4.2"/>
<circle cx="764.6" cy="1285.3" r="4.2"/>
<circle cx="764.6" cy="1286.9" r="4.2"/>
</g>
<g fill="#d02a2a">
<circle cx="800.4" cy="1207.6" r="4.2"/>
<circle cx="800.4" cy="1232.8" r="4.2"/>
<circle cx="800.4" cy="1245.7" r="4.2"/>
<circle cx="800.4" cy="1248.2" r="4.2"/>
<circle cx="800.4" cy="1265.5" r="4.2"/>
<circle cx="800.4" cy="1297.6" r="4.2"/>
<circle cx="800.4" cy="1330.3" r="4.2"/>
<circle cx="800.4" cy="1342.6" r="4.2"/>
<circle cx="800.4" cy="1349.3" r="4.2"/>
<circle cx="800.4" cy="1362.8" r="4.2"/>
<circle cx="800.4" cy="1376.5" r="4.2"/>
<circle cx="800.4" cy="1273.8" r="4.2"/>
<circle cx="800.4" cy="1275.3" r="4.2"/>
<circle cx="800.4" cy="1277.4" r="4.2"/>
<circle cx="800.4" cy="1278.9" r="4.2"/>
<circle cx="800.4" cy="1280.0" r="4.2"/>
<circle cx="800.4" cy="1282.0" r="4.2"/>
<circle cx="800.4" cy="1283.8" r="4.2"/>
<circle cx="800.4" cy="1285.5" r="4.2"/>
<circle cx="800.4" cy="1286.9" r="4.2"/>
<circle cx="800.4" cy="1312.3" r="4.2"/>
<circle cx="800.4" cy="1314.3" r="4.2"/>
<circle cx="800.4" cy="1316.8" r="4.2"/>
<circle cx="800.4" cy="1319.0" r="4.2"/>
<circle cx="800.4" cy="1320.8" r="4.2"/>
</g>
<g fill="#d02a2a">
<circle cx="836.2" cy="1229.4" r="4.2"/>
<circle cx="836.2" cy="1239.7" r="4.2"/>
<circle cx="836.2" cy="1243.5" r="4.2"/>
<circle cx="836.2" cy="1286.9" r="4.2"/>
<circle cx="836.2" cy="1290.7" r="4.2"/>
<circle cx="836.2" cy="1252.0" r="4.2"/>
<circle cx="836.2" cy="1254.2" r="4.2"/>
<circle cx="836.2" cy="1257.7" r="4.2"/>
<circle cx="836.2" cy="1259.5" r="4.2"/>
<circle cx="836.2" cy="1261.9" r="4.2"/>
<circle cx="836.2" cy="1264.0" r="4.2"/>
<circle cx="836.2" cy="1267.1" r="4.2"/>
<circle cx="836.2" cy="1307.7" r="4.2"/>
<circle cx="836.2" cy="1310.3" r="4.2"/>
<circle cx="836.2" cy="1315.2" r="4.2"/>
<circle cx="836.2" cy="1326.5" r="4.2"/>
<circle cx="836.2" cy="1328.8" r="4.2"/>
<circle cx="836.2" cy="1331.9" r="4.2"/>
<circle cx="836.2" cy="1334.1" r="4.2"/>
<circle cx="836.2" cy="1336.5" r="4.2"/>
<circle cx="836.2" cy="1340.0" r="4.2"/>
<circle cx="836.2" cy="1342.9" r="4.2"/>
<circle cx="836.2" cy="1345.1" r="4.2"/>
<circle cx="836.2" cy="1347.2" r="4.2"/>
<circle cx="836.2" cy="1350.1" r="4.2"/>
</g>
<g fill="#d02a2a">
<circle cx="872.1" cy="1275.6" r="4.2"/>
<circle cx="872.1" cy="1281.2" r="4.2"/>
<circle cx="872.1" cy="1285.9" r="4.2"/>
<circle cx="872.1" cy="1321.8" r="4.2"/>
<circle cx="872.1" cy="1325.6" r="4.2"/>
<circle cx="872.1" cy="1346.4" r="4.2"/>
<circle cx="872.1" cy="1352.1" r="4.2"/>
<circle cx="872.1" cy="1232.2" r="4.2"/>
<circle cx="872.1" cy="1234.9" r="4.2"/>
<circle cx="872.1" cy="1236.9" r="4.2"/>
<circle cx="872.1" cy="1247.3" r="4.2"/>
<circle cx="872.1" cy="1248.6" r="4.2"/>
<circle cx="872.1" cy="1250.8" r="4.2"/>
<circle cx="872.1" cy="1252.2" r="4.2"/>
<circle cx="872.1" cy="1254.5" r="4.2"/>
<circle cx="872.1" cy="1255.4" r="4.2"/>
<circle cx="872.1" cy="1257.2" r="4.2"/>
<circle cx="872.1" cy="1259.2" r="4.2"/>
<circle cx="872.1" cy="1260.7" r="4.2"/>
<circle cx="872.1" cy="1262.4" r="4.2"/>
<circle cx="872.1" cy="1264.3" r="4.2"/>
<circle cx="872.1" cy="1300.0" r="4.2"/>
<circle cx="872.1" cy="1302.6" r="4.2"/>
<circle cx="872.1" cy="1304.1" r="4.2"/>
<circle cx="872.1" cy="1306.7" r="4.2"/>
</g>
<g fill="#d02a2a">
<circle cx="908.0" cy="1286.9" r="4.2"/>
<circle cx="908.0" cy="1298.2" r="4.2"/>
<circle cx="908.0" cy="1306.7" r="4.2"/>
<circle cx="908.0" cy="1320.8" r="4.2"/>
<circle cx="908.0" cy="1326.5" r="4.2"/>
<circle cx="908.0" cy="1342.6" r="4.2"/>
<circle cx="908.0" cy="1225.6" r="4.2"/>
<circle cx="908.0" cy="1227.1" r="4.2"/>
<circle cx="908.0" cy="1229.6" r="4.2"/>
<circle cx="908.0" cy="1231.3" r="4.2"/>
<circle cx="908.0" cy="1232.8" r="4.2"/>
<circle cx="908.0" cy="1234.9" r="4.2"/>
<circle cx="908.0" cy="1236.8" r="4.2"/>
<circle cx="908.0" cy="1238.1" r="4.2"/>
<circle cx="908.0" cy="1239.7" r="4.2"/>
<circle cx="908.0" cy="1242.0" r="4.2"/>
<circle cx="908.0" cy="1243.6" r="4.2"/>
<circle cx="908.0" cy="1246.0" r="4.2"/>
<circle cx="908.0" cy="1247.3" r="4.2"/>
<circle cx="908.0" cy="1267.1" r="4.2"/>
<circle cx="908.0" cy="1269.6" r="4.2"/>
<circle cx="908.0" cy="1270.9" r="4.2"/>
<circle cx="908.0" cy="1272.9" r="4.2"/>
<circle cx="908.0" cy="1274.2" r="4.2"/>
<circle cx="908.0" cy="1276.6" r="4.2"/>
</g>
<g fill="#d02a2a">
<circle cx="943.8" cy="1218.7" r="4.2"/>
<circle cx="943.8" cy="1260.1" r="4.2"/>
<circle cx="943.8" cy="1272.8" r="4.2"/>
<circle cx="943.8" cy="1286.9" r="4.2"/>
<circle cx="943.8" cy="1288.7" r="4.2"/>
<circle cx="943.8" cy="1300.6" r="4.2"/>
<circle cx="943.8" cy="1309.9" r="4.2"/>
<circle cx="943.8" cy="1345.4" r="4.2"/>
<circle cx="943.8" cy="1228.4" r="4.2"/>
<circle cx="943.8" cy="1230.7" r="4.2"/>
<circle cx="943.8" cy="1231.5" r="4.2"/>
<circle cx="943.8" cy="1234.2" r="4.2"/>
<circle cx="943.8" cy="1235.1" r="4.2"/>
<circle cx="943.8" cy="1237.0" r="4.2"/>
<circle cx="943.8" cy="1239.2" r="4.2"/>
<circle cx="943.8" cy="1240.5" r="4.2"/>
<circle cx="943.8" cy="1242.7" r="4.2"/>
<circle cx="943.8" cy="1244.2" r="4.2"/>
<circle cx="943.8" cy="1246.3" r="4.2"/>
<circle cx="943.8" cy="1319.0" r="4.2"/>
<circle cx="943.8" cy="1320.6" r="4.2"/>
<circle cx="943.8" cy="1322.8" r="4.2"/>
<circle cx="943.8" cy="1324.2" r="4.2"/>
<circle cx="943.8" cy="1326.5" r="4.2"/>
<circle cx="943.8" cy="1328.5" r="4.2"/>
</g>
<g fill="#d02a2a">
<circle cx="979.7" cy="1257.0" r="4.2"/>
<circle cx="979.7" cy="1279.4" r="4.2"/>
<circle cx="979.7" cy="1286.9" r="4.2"/>
<circle cx="979.7" cy="1317.2" r="4.2"/>
<circle cx="979.7" cy="1325.6" r="4.2"/>
<circle cx="979.7" cy="1333.7" r="4.2"/>
<circle cx="979.7" cy="1345.4" r="4.2"/>
<circle cx="979.7" cy="1358.1" r="4.2"/>
<circle cx="979.7" cy="1210.4" r="4.2"/>
<circle cx="979.7" cy="1212.0" r="4.2"/>
<circle cx="979.7" cy="1214.5" r="4.2"/>
<circle cx="979.7" cy="1216.1" r="4.2"/>
<circle cx="979.7" cy="1226.6" r="4.2"/>
<circle cx="979.7" cy="1227.9" r="4.2"/>
<circle cx="979.7" cy="1230.0" r="4.2"/>
<circle cx="979.7" cy="1232.3" r="4.2"/>
<circle cx="979.7" cy="1233.5" r="4.2"/>
<circle cx="979.7" cy="1235.0" r="4.2"/>
<circle cx="979.7" cy="1237.1" r="4.2"/>
<circle cx="979.7" cy="1238.9" r="4.2"/>
<circle cx="979.7" cy="1296.4" r="4.2"/>
<circle cx="979.7" cy="1298.9" r="4.2"/>
<circle cx="979.7" cy="1300.3" r="4.2"/>
<circle cx="979.7" cy="1302.6" r="4.2"/>
<circle cx="979.7" cy="1304.9" r="4.2"/>
</g>
<g fill="#d02a2a">
<circle cx="1015.5" cy="1186.0" r="4.2"/>
<circle cx="1015.5" cy="1187.8" r="4.2"/>
<circle cx="1015.5" cy="1207.2" r="4.2"/>
<circle cx="1015.5" cy="1218.7" r="4.2"/>
<circle cx="1015.5" cy="1228.4" r="4.2"/>
<circle cx="1015.5" cy="1237.9" r="4.2"/>
<circle cx="1015.5" cy="1257.6" r="4.2"/>
<circle cx="1015.5" cy="1275.2" r="4.2"/>
<circle cx="1015.5" cy="1286.5" r="4.2"/>
<circle cx="1015.5" cy="1297.2" r="4.2"/>
<circle cx="1015.5" cy="1302.4" r="4.2"/>
<circle cx="1015.5" cy="1315.8" r="4.2"/>
<circle cx="1015.5" cy="1335.9" r="4.2"/>
<circle cx="1015.5" cy="1340.6" r="4.2"/>
<circle cx="1015.5" cy="1346.4" r="4.2"/>
<circle cx="1015.5" cy="1382.6" r="4.2"/>
</g>
<path class="ax" d="M131.3 982.1V1589.6H1042.0"/>
<line class="ax" x1="119.8" y1="984.2" x2="131.3" y2="984.2"/>
<text class="t" x="116.8" y="996.8" text-anchor="end">150</text>
<line class="ax" x1="119.8" y1="1085.1" x2="131.3" y2="1085.1"/>
<text class="t" x="116.8" y="1097.7" text-anchor="end">100</text>
<line class="ax" x1="119.8" y1="1186.0" x2="131.3" y2="1186.0"/>
<text class="t" x="116.8" y="1198.6" text-anchor="end">50</text>
<line class="ax" x1="119.8" y1="1286.9" x2="131.3" y2="1286.9"/>
<text class="t" x="116.8" y="1299.5" text-anchor="end">0</text>
<line class="ax" x1="119.8" y1="1387.8" x2="131.3" y2="1387.8"/>
<text class="t" x="116.8" y="1400.4" text-anchor="end">-50</text>
<line class="ax" x1="119.8" y1="1488.7" x2="131.3" y2="1488.7"/>
<text class="t" x="116.8" y="1501.3" text-anchor="end">-100</text>
<line class="ax" x1="119.8" y1="1589.6" x2="131.3" y2="1589.6"/>
<text class="t" x="116.8" y="1602.2" text-anchor="end">-150</text>
<text class="tt" transform="translate(28.5,1281) rotate(-90)" text-anchor="middle">y-shift error [nm]</text>
<text class="tt" x="586" y="1632.7" text-anchor="middle">tilt series</text>
<g fill="#a2a2aa">
<circle cx="1212.1" cy="1324.1" r="3.9"/>
<circle cx="1212.1" cy="1252.7" r="3.9"/>
<circle cx="1212.1" cy="1255.6" r="3.9"/>
<circle cx="1212.1" cy="1257.9" r="3.9"/>
<circle cx="1212.1" cy="1260.9" r="3.9"/>
<circle cx="1212.1" cy="1262.6" r="3.9"/>
<circle cx="1212.1" cy="1265.9" r="3.9"/>
<circle cx="1212.1" cy="1267.8" r="3.9"/>
<circle cx="1212.1" cy="1271.1" r="3.9"/>
<circle cx="1212.1" cy="1272.4" r="3.9"/>
<circle cx="1212.1" cy="1276.0" r="3.9"/>
<circle cx="1212.1" cy="1277.6" r="3.9"/>
<circle cx="1212.1" cy="1279.7" r="3.9"/>
<circle cx="1212.1" cy="1282.7" r="3.9"/>
<circle cx="1212.1" cy="1285.2" r="3.9"/>
<circle cx="1212.1" cy="1288.5" r="3.9"/>
<circle cx="1212.1" cy="1290.9" r="3.9"/>
<circle cx="1212.1" cy="1293.7" r="3.9"/>
<circle cx="1212.1" cy="1295.6" r="3.9"/>
<circle cx="1212.1" cy="1297.3" r="3.9"/>
<circle cx="1212.1" cy="1300.8" r="3.9"/>
<circle cx="1212.1" cy="1302.6" r="3.9"/>
<circle cx="1212.1" cy="1304.9" r="3.9"/>
<circle cx="1212.1" cy="1308.8" r="3.9"/>
<circle cx="1212.1" cy="1310.7" r="3.9"/>
</g>
<g fill="#f4ae7d">
<circle cx="1247.9" cy="1296.5" r="3.9"/>
<circle cx="1247.9" cy="1298.3" r="3.9"/>
<circle cx="1247.9" cy="1302.4" r="3.9"/>
<circle cx="1247.9" cy="1304.7" r="3.9"/>
<circle cx="1247.9" cy="1306.7" r="3.9"/>
<circle cx="1247.9" cy="1310.2" r="3.9"/>
<circle cx="1247.9" cy="1311.9" r="3.9"/>
<circle cx="1247.9" cy="1314.8" r="3.9"/>
<circle cx="1247.9" cy="1317.3" r="3.9"/>
<circle cx="1247.9" cy="1319.5" r="3.9"/>
<circle cx="1247.9" cy="1322.1" r="3.9"/>
<circle cx="1247.9" cy="1325.7" r="3.9"/>
<circle cx="1247.9" cy="1328.2" r="3.9"/>
<circle cx="1247.9" cy="1330.4" r="3.9"/>
<circle cx="1247.9" cy="1332.9" r="3.9"/>
<circle cx="1247.9" cy="1346.3" r="3.9"/>
<circle cx="1247.9" cy="1349.5" r="3.9"/>
<circle cx="1247.9" cy="1351.7" r="3.9"/>
<circle cx="1247.9" cy="1354.1" r="3.9"/>
<circle cx="1247.9" cy="1357.4" r="3.9"/>
<circle cx="1247.9" cy="1359.8" r="3.9"/>
<circle cx="1247.9" cy="1362.9" r="3.9"/>
<circle cx="1247.9" cy="1365.0" r="3.9"/>
<circle cx="1247.9" cy="1367.2" r="3.9"/>
<circle cx="1247.9" cy="1370.7" r="3.9"/>
</g>
<g fill="#f4ae7d">
<circle cx="1283.8" cy="1350.7" r="3.9"/>
<circle cx="1283.8" cy="1287.1" r="3.9"/>
<circle cx="1283.8" cy="1288.8" r="3.9"/>
<circle cx="1283.8" cy="1292.4" r="3.9"/>
<circle cx="1283.8" cy="1293.5" r="3.9"/>
<circle cx="1283.8" cy="1296.6" r="3.9"/>
<circle cx="1283.8" cy="1298.6" r="3.9"/>
<circle cx="1283.8" cy="1301.4" r="3.9"/>
<circle cx="1283.8" cy="1303.4" r="3.9"/>
<circle cx="1283.8" cy="1305.9" r="3.9"/>
<circle cx="1283.8" cy="1307.6" r="3.9"/>
<circle cx="1283.8" cy="1310.3" r="3.9"/>
<circle cx="1283.8" cy="1312.0" r="3.9"/>
<circle cx="1283.8" cy="1314.0" r="3.9"/>
<circle cx="1283.8" cy="1316.2" r="3.9"/>
<circle cx="1283.8" cy="1318.5" r="3.9"/>
<circle cx="1283.8" cy="1321.4" r="3.9"/>
<circle cx="1283.8" cy="1323.1" r="3.9"/>
<circle cx="1283.8" cy="1326.4" r="3.9"/>
<circle cx="1283.8" cy="1328.2" r="3.9"/>
<circle cx="1283.8" cy="1330.6" r="3.9"/>
<circle cx="1283.8" cy="1333.2" r="3.9"/>
<circle cx="1283.8" cy="1335.6" r="3.9"/>
<circle cx="1283.8" cy="1338.1" r="3.9"/>
<circle cx="1283.8" cy="1339.7" r="3.9"/>
</g>
<g fill="#f4ae7d">
<circle cx="1319.6" cy="1240.3" r="3.9"/>
<circle cx="1319.6" cy="1242.8" r="3.9"/>
<circle cx="1319.6" cy="1245.1" r="3.9"/>
<circle cx="1319.6" cy="1248.1" r="3.9"/>
<circle cx="1319.6" cy="1250.1" r="3.9"/>
<circle cx="1319.6" cy="1252.3" r="3.9"/>
<circle cx="1319.6" cy="1254.9" r="3.9"/>
<circle cx="1319.6" cy="1258.5" r="3.9"/>
<circle cx="1319.6" cy="1260.0" r="3.9"/>
<circle cx="1319.6" cy="1263.5" r="3.9"/>
<circle cx="1319.6" cy="1265.6" r="3.9"/>
<circle cx="1319.6" cy="1267.8" r="3.9"/>
<circle cx="1319.6" cy="1270.3" r="3.9"/>
<circle cx="1319.6" cy="1272.9" r="3.9"/>
<circle cx="1319.6" cy="1275.8" r="3.9"/>
<circle cx="1319.6" cy="1278.4" r="3.9"/>
<circle cx="1319.6" cy="1280.3" r="3.9"/>
<circle cx="1319.6" cy="1282.7" r="3.9"/>
<circle cx="1319.6" cy="1285.9" r="3.9"/>
<circle cx="1319.6" cy="1288.1" r="3.9"/>
<circle cx="1319.6" cy="1290.9" r="3.9"/>
<circle cx="1319.6" cy="1293.7" r="3.9"/>
<circle cx="1319.6" cy="1295.7" r="3.9"/>
<circle cx="1319.6" cy="1298.3" r="3.9"/>
<circle cx="1319.6" cy="1301.2" r="3.9"/>
</g>
<g fill="#f4ae7d">
<circle cx="1355.5" cy="1175.6" r="3.9"/>
<circle cx="1355.5" cy="1178.3" r="3.9"/>
<circle cx="1355.5" cy="1180.2" r="3.9"/>
<circle cx="1355.5" cy="1182.8" r="3.9"/>
<circle cx="1355.5" cy="1186.4" r="3.9"/>
<circle cx="1355.5" cy="1188.9" r="3.9"/>
<circle cx="1355.5" cy="1190.8" r="3.9"/>
<circle cx="1355.5" cy="1193.6" r="3.9"/>
<circle cx="1355.5" cy="1195.6" r="3.9"/>
<circle cx="1355.5" cy="1198.2" r="3.9"/>
<circle cx="1355.5" cy="1201.4" r="3.9"/>
<circle cx="1355.5" cy="1204.4" r="3.9"/>
<circle cx="1355.5" cy="1207.2" r="3.9"/>
<circle cx="1355.5" cy="1209.2" r="3.9"/>
<circle cx="1355.5" cy="1211.5" r="3.9"/>
<circle cx="1355.5" cy="1214.2" r="3.9"/>
<circle cx="1355.5" cy="1217.2" r="3.9"/>
<circle cx="1355.5" cy="1220.3" r="3.9"/>
<circle cx="1355.5" cy="1222.0" r="3.9"/>
<circle cx="1355.5" cy="1224.1" r="3.9"/>
<circle cx="1355.5" cy="1226.9" r="3.9"/>
<circle cx="1355.5" cy="1229.2" r="3.9"/>
<circle cx="1355.5" cy="1232.2" r="3.9"/>
<circle cx="1355.5" cy="1235.3" r="3.9"/>
<circle cx="1355.5" cy="1237.7" r="3.9"/>
</g>
<g fill="#f4ae7d">
<circle cx="1391.3" cy="1193.3" r="3.9"/>
<circle cx="1391.3" cy="1195.8" r="3.9"/>
<circle cx="1391.3" cy="1197.5" r="3.9"/>
<circle cx="1391.3" cy="1200.6" r="3.9"/>
<circle cx="1391.3" cy="1203.1" r="3.9"/>
<circle cx="1391.3" cy="1206.3" r="3.9"/>
<circle cx="1391.3" cy="1208.1" r="3.9"/>
<circle cx="1391.3" cy="1211.3" r="3.9"/>
<circle cx="1391.3" cy="1213.5" r="3.9"/>
<circle cx="1391.3" cy="1215.9" r="3.9"/>
<circle cx="1391.3" cy="1217.5" r="3.9"/>
<circle cx="1391.3" cy="1220.8" r="3.9"/>
<circle cx="1391.3" cy="1223.0" r="3.9"/>
<circle cx="1391.3" cy="1235.1" r="3.9"/>
<circle cx="1391.3" cy="1236.9" r="3.9"/>
<circle cx="1391.3" cy="1240.2" r="3.9"/>
<circle cx="1391.3" cy="1242.6" r="3.9"/>
<circle cx="1391.3" cy="1245.0" r="3.9"/>
<circle cx="1391.3" cy="1247.3" r="3.9"/>
<circle cx="1391.3" cy="1249.2" r="3.9"/>
<circle cx="1391.3" cy="1251.2" r="3.9"/>
<circle cx="1391.3" cy="1254.3" r="3.9"/>
<circle cx="1391.3" cy="1255.8" r="3.9"/>
<circle cx="1391.3" cy="1257.9" r="3.9"/>
<circle cx="1391.3" cy="1260.5" r="3.9"/>
</g>
<g fill="#f4ae7d">
<circle cx="1427.2" cy="1223.6" r="3.9"/>
<circle cx="1427.2" cy="1226.3" r="3.9"/>
<circle cx="1427.2" cy="1228.2" r="3.9"/>
<circle cx="1427.2" cy="1231.2" r="3.9"/>
<circle cx="1427.2" cy="1233.3" r="3.9"/>
<circle cx="1427.2" cy="1235.8" r="3.9"/>
<circle cx="1427.2" cy="1239.1" r="3.9"/>
<circle cx="1427.2" cy="1241.6" r="3.9"/>
<circle cx="1427.2" cy="1243.8" r="3.9"/>
<circle cx="1427.2" cy="1246.3" r="3.9"/>
<circle cx="1427.2" cy="1248.2" r="3.9"/>
<circle cx="1427.2" cy="1251.3" r="3.9"/>
<circle cx="1427.2" cy="1254.0" r="3.9"/>
<circle cx="1427.2" cy="1266.3" r="3.9"/>
<circle cx="1427.2" cy="1268.3" r="3.9"/>
<circle cx="1427.2" cy="1271.4" r="3.9"/>
<circle cx="1427.2" cy="1273.4" r="3.9"/>
<circle cx="1427.2" cy="1276.4" r="3.9"/>
<circle cx="1427.2" cy="1278.1" r="3.9"/>
<circle cx="1427.2" cy="1280.6" r="3.9"/>
<circle cx="1427.2" cy="1283.6" r="3.9"/>
<circle cx="1427.2" cy="1285.5" r="3.9"/>
<circle cx="1427.2" cy="1288.1" r="3.9"/>
<circle cx="1427.2" cy="1291.4" r="3.9"/>
<circle cx="1427.2" cy="1293.5" r="3.9"/>
</g>
<g fill="#f4ae7d">
<circle cx="1463.0" cy="1272.4" r="3.9"/>
<circle cx="1463.0" cy="1274.7" r="3.9"/>
<circle cx="1463.0" cy="1276.7" r="3.9"/>
<circle cx="1463.0" cy="1278.9" r="3.9"/>
<circle cx="1463.0" cy="1281.4" r="3.9"/>
<circle cx="1463.0" cy="1283.7" r="3.9"/>
<circle cx="1463.0" cy="1286.7" r="3.9"/>
<circle cx="1463.0" cy="1297.4" r="3.9"/>
<circle cx="1463.0" cy="1299.5" r="3.9"/>
<circle cx="1463.0" cy="1302.0" r="3.9"/>
<circle cx="1463.0" cy="1304.6" r="3.9"/>
<circle cx="1463.0" cy="1317.9" r="3.9"/>
<circle cx="1463.0" cy="1320.5" r="3.9"/>
<circle cx="1463.0" cy="1322.2" r="3.9"/>
<circle cx="1463.0" cy="1324.7" r="3.9"/>
<circle cx="1463.0" cy="1325.6" r="3.9"/>
<circle cx="1463.0" cy="1328.1" r="3.9"/>
<circle cx="1463.0" cy="1329.9" r="3.9"/>
<circle cx="1463.0" cy="1332.4" r="3.9"/>
<circle cx="1463.0" cy="1333.9" r="3.9"/>
<circle cx="1463.0" cy="1336.6" r="3.9"/>
<circle cx="1463.0" cy="1339.1" r="3.9"/>
<circle cx="1463.0" cy="1340.2" r="3.9"/>
<circle cx="1463.0" cy="1343.2" r="3.9"/>
<circle cx="1463.0" cy="1344.8" r="3.9"/>
</g>
<g fill="#f4ae7d">
<circle cx="1498.9" cy="1391.1" r="3.9"/>
<circle cx="1498.9" cy="1320.5" r="3.9"/>
<circle cx="1498.9" cy="1322.4" r="3.9"/>
<circle cx="1498.9" cy="1324.6" r="3.9"/>
<circle cx="1498.9" cy="1326.3" r="3.9"/>
<circle cx="1498.9" cy="1328.6" r="3.9"/>
<circle cx="1498.9" cy="1330.0" r="3.9"/>
<circle cx="1498.9" cy="1332.0" r="3.9"/>
<circle cx="1498.9" cy="1344.5" r="3.9"/>
<circle cx="1498.9" cy="1346.4" r="3.9"/>
<circle cx="1498.9" cy="1348.5" r="3.9"/>
<circle cx="1498.9" cy="1350.2" r="3.9"/>
<circle cx="1498.9" cy="1352.0" r="3.9"/>
<circle cx="1498.9" cy="1354.3" r="3.9"/>
<circle cx="1498.9" cy="1366.0" r="3.9"/>
<circle cx="1498.9" cy="1367.7" r="3.9"/>
<circle cx="1498.9" cy="1369.3" r="3.9"/>
<circle cx="1498.9" cy="1371.5" r="3.9"/>
<circle cx="1498.9" cy="1372.7" r="3.9"/>
<circle cx="1498.9" cy="1375.0" r="3.9"/>
<circle cx="1498.9" cy="1376.7" r="3.9"/>
<circle cx="1498.9" cy="1378.0" r="3.9"/>
<circle cx="1498.9" cy="1380.3" r="3.9"/>
<circle cx="1498.9" cy="1381.7" r="3.9"/>
</g>
<g fill="#f4ae7d">
<circle cx="1534.8" cy="1349.7" r="3.9"/>
<circle cx="1534.8" cy="1352.4" r="3.9"/>
<circle cx="1534.8" cy="1353.7" r="3.9"/>
<circle cx="1534.8" cy="1356.5" r="3.9"/>
<circle cx="1534.8" cy="1357.7" r="3.9"/>
<circle cx="1534.8" cy="1360.5" r="3.9"/>
<circle cx="1534.8" cy="1361.9" r="3.9"/>
<circle cx="1534.8" cy="1364.6" r="3.9"/>
<circle cx="1534.8" cy="1376.3" r="3.9"/>
<circle cx="1534.8" cy="1379.2" r="3.9"/>
<circle cx="1534.8" cy="1381.7" r="3.9"/>
<circle cx="1534.8" cy="1397.7" r="3.9"/>
<circle cx="1534.8" cy="1399.3" r="3.9"/>
<circle cx="1534.8" cy="1401.8" r="3.9"/>
<circle cx="1534.8" cy="1403.4" r="3.9"/>
<circle cx="1534.8" cy="1405.3" r="3.9"/>
<circle cx="1534.8" cy="1407.7" r="3.9"/>
<circle cx="1534.8" cy="1409.9" r="3.9"/>
<circle cx="1534.8" cy="1411.7" r="3.9"/>
<circle cx="1534.8" cy="1414.1" r="3.9"/>
<circle cx="1534.8" cy="1415.6" r="3.9"/>
<circle cx="1534.8" cy="1417.9" r="3.9"/>
<circle cx="1534.8" cy="1420.1" r="3.9"/>
<circle cx="1534.8" cy="1421.8" r="3.9"/>
<circle cx="1534.8" cy="1424.0" r="3.9"/>
</g>
<g fill="#f4ae7d">
<circle cx="1570.6" cy="1349.4" r="3.9"/>
<circle cx="1570.6" cy="1360.1" r="3.9"/>
<circle cx="1570.6" cy="1400.9" r="3.9"/>
<circle cx="1570.6" cy="1330.8" r="3.9"/>
<circle cx="1570.6" cy="1332.5" r="3.9"/>
<circle cx="1570.6" cy="1333.7" r="3.9"/>
<circle cx="1570.6" cy="1335.5" r="3.9"/>
<circle cx="1570.6" cy="1337.2" r="3.9"/>
<circle cx="1570.6" cy="1338.8" r="3.9"/>
<circle cx="1570.6" cy="1371.0" r="3.9"/>
<circle cx="1570.6" cy="1372.5" r="3.9"/>
<circle cx="1570.6" cy="1373.8" r="3.9"/>
<circle cx="1570.6" cy="1375.3" r="3.9"/>
<circle cx="1570.6" cy="1376.8" r="3.9"/>
<circle cx="1570.6" cy="1378.2" r="3.9"/>
<circle cx="1570.6" cy="1379.2" r="3.9"/>
<circle cx="1570.6" cy="1380.9" r="3.9"/>
<circle cx="1570.6" cy="1382.0" r="3.9"/>
<circle cx="1570.6" cy="1384.0" r="3.9"/>
<circle cx="1570.6" cy="1384.8" r="3.9"/>
<circle cx="1570.6" cy="1386.1" r="3.9"/>
<circle cx="1570.6" cy="1387.9" r="3.9"/>
<circle cx="1570.6" cy="1388.9" r="3.9"/>
<circle cx="1570.6" cy="1391.0" r="3.9"/>
<circle cx="1570.6" cy="1392.0" r="3.9"/>
</g>
<g fill="#f4ae7d">
<circle cx="1606.4" cy="1308.4" r="3.9"/>
<circle cx="1606.4" cy="1311.6" r="3.9"/>
<circle cx="1606.4" cy="1313.7" r="3.9"/>
<circle cx="1606.4" cy="1316.8" r="3.9"/>
<circle cx="1606.4" cy="1319.4" r="3.9"/>
<circle cx="1606.4" cy="1322.0" r="3.9"/>
<circle cx="1606.4" cy="1325.2" r="3.9"/>
<circle cx="1606.4" cy="1328.8" r="3.9"/>
<circle cx="1606.4" cy="1330.6" r="3.9"/>
<circle cx="1606.4" cy="1334.2" r="3.9"/>
<circle cx="1606.4" cy="1336.8" r="3.9"/>
<circle cx="1606.4" cy="1340.5" r="3.9"/>
<circle cx="1606.4" cy="1341.7" r="3.9"/>
<circle cx="1606.4" cy="1345.2" r="3.9"/>
<circle cx="1606.4" cy="1348.2" r="3.9"/>
<circle cx="1606.4" cy="1351.2" r="3.9"/>
<circle cx="1606.4" cy="1353.5" r="3.9"/>
<circle cx="1606.4" cy="1356.2" r="3.9"/>
<circle cx="1606.4" cy="1359.3" r="3.9"/>
<circle cx="1606.4" cy="1361.9" r="3.9"/>
<circle cx="1606.4" cy="1364.5" r="3.9"/>
<circle cx="1606.4" cy="1368.1" r="3.9"/>
<circle cx="1606.4" cy="1370.1" r="3.9"/>
<circle cx="1606.4" cy="1373.7" r="3.9"/>
<circle cx="1606.4" cy="1376.6" r="3.9"/>
</g>
<g fill="#f4ae7d">
<circle cx="1642.3" cy="1294.8" r="3.9"/>
<circle cx="1642.3" cy="1296.8" r="3.9"/>
<circle cx="1642.3" cy="1300.3" r="3.9"/>
<circle cx="1642.3" cy="1302.4" r="3.9"/>
<circle cx="1642.3" cy="1305.2" r="3.9"/>
<circle cx="1642.3" cy="1307.0" r="3.9"/>
<circle cx="1642.3" cy="1310.1" r="3.9"/>
<circle cx="1642.3" cy="1312.7" r="3.9"/>
<circle cx="1642.3" cy="1315.4" r="3.9"/>
<circle cx="1642.3" cy="1318.7" r="3.9"/>
<circle cx="1642.3" cy="1320.9" r="3.9"/>
<circle cx="1642.3" cy="1322.6" r="3.9"/>
<circle cx="1642.3" cy="1325.8" r="3.9"/>
<circle cx="1642.3" cy="1328.1" r="3.9"/>
<circle cx="1642.3" cy="1330.2" r="3.9"/>
<circle cx="1642.3" cy="1332.9" r="3.9"/>
<circle cx="1642.3" cy="1335.3" r="3.9"/>
<circle cx="1642.3" cy="1339.3" r="3.9"/>
<circle cx="1642.3" cy="1340.8" r="3.9"/>
<circle cx="1642.3" cy="1343.8" r="3.9"/>
<circle cx="1642.3" cy="1346.0" r="3.9"/>
<circle cx="1642.3" cy="1348.3" r="3.9"/>
<circle cx="1642.3" cy="1352.0" r="3.9"/>
<circle cx="1642.3" cy="1353.9" r="3.9"/>
<circle cx="1642.3" cy="1356.8" r="3.9"/>
</g>
<g fill="#f4ae7d">
<circle cx="1678.1" cy="1263.2" r="3.9"/>
<circle cx="1678.1" cy="1332.7" r="3.9"/>
<circle cx="1678.1" cy="1274.3" r="3.9"/>
<circle cx="1678.1" cy="1276.4" r="3.9"/>
<circle cx="1678.1" cy="1278.6" r="3.9"/>
<circle cx="1678.1" cy="1281.3" r="3.9"/>
<circle cx="1678.1" cy="1283.6" r="3.9"/>
<circle cx="1678.1" cy="1285.1" r="3.9"/>
<circle cx="1678.1" cy="1287.5" r="3.9"/>
<circle cx="1678.1" cy="1290.0" r="3.9"/>
<circle cx="1678.1" cy="1292.2" r="3.9"/>
<circle cx="1678.1" cy="1295.0" r="3.9"/>
<circle cx="1678.1" cy="1296.3" r="3.9"/>
<circle cx="1678.1" cy="1298.4" r="3.9"/>
<circle cx="1678.1" cy="1300.9" r="3.9"/>
<circle cx="1678.1" cy="1303.4" r="3.9"/>
<circle cx="1678.1" cy="1305.1" r="3.9"/>
<circle cx="1678.1" cy="1307.4" r="3.9"/>
<circle cx="1678.1" cy="1310.6" r="3.9"/>
<circle cx="1678.1" cy="1312.2" r="3.9"/>
<circle cx="1678.1" cy="1315.0" r="3.9"/>
<circle cx="1678.1" cy="1316.6" r="3.9"/>
<circle cx="1678.1" cy="1319.0" r="3.9"/>
<circle cx="1678.1" cy="1321.9" r="3.9"/>
<circle cx="1678.1" cy="1323.5" r="3.9"/>
</g>
<g fill="#f4ae7d">
<circle cx="1714.0" cy="1218.5" r="3.9"/>
<circle cx="1714.0" cy="1220.8" r="3.9"/>
<circle cx="1714.0" cy="1222.7" r="3.9"/>
<circle cx="1714.0" cy="1225.2" r="3.9"/>
<circle cx="1714.0" cy="1228.1" r="3.9"/>
<circle cx="1714.0" cy="1230.4" r="3.9"/>
<circle cx="1714.0" cy="1233.3" r="3.9"/>
<circle cx="1714.0" cy="1234.8" r="3.9"/>
<circle cx="1714.0" cy="1237.1" r="3.9"/>
<circle cx="1714.0" cy="1240.0" r="3.9"/>
<circle cx="1714.0" cy="1242.5" r="3.9"/>
<circle cx="1714.0" cy="1244.5" r="3.9"/>
<circle cx="1714.0" cy="1256.3" r="3.9"/>
<circle cx="1714.0" cy="1259.3" r="3.9"/>
<circle cx="1714.0" cy="1260.5" r="3.9"/>
<circle cx="1714.0" cy="1264.2" r="3.9"/>
<circle cx="1714.0" cy="1266.5" r="3.9"/>
<circle cx="1714.0" cy="1268.3" r="3.9"/>
<circle cx="1714.0" cy="1271.5" r="3.9"/>
<circle cx="1714.0" cy="1273.2" r="3.9"/>
<circle cx="1714.0" cy="1276.5" r="3.9"/>
<circle cx="1714.0" cy="1278.6" r="3.9"/>
<circle cx="1714.0" cy="1280.2" r="3.9"/>
<circle cx="1714.0" cy="1283.5" r="3.9"/>
<circle cx="1714.0" cy="1285.7" r="3.9"/>
</g>
<g fill="#f4ae7d">
<circle cx="1749.8" cy="1221.2" r="3.9"/>
<circle cx="1749.8" cy="1153.2" r="3.9"/>
<circle cx="1749.8" cy="1155.7" r="3.9"/>
<circle cx="1749.8" cy="1158.3" r="3.9"/>
<circle cx="1749.8" cy="1159.6" r="3.9"/>
<circle cx="1749.8" cy="1162.0" r="3.9"/>
<circle cx="1749.8" cy="1164.7" r="3.9"/>
<circle cx="1749.8" cy="1167.4" r="3.9"/>
<circle cx="1749.8" cy="1168.4" r="3.9"/>
<circle cx="1749.8" cy="1171.3" r="3.9"/>
<circle cx="1749.8" cy="1174.1" r="3.9"/>
<circle cx="1749.8" cy="1175.8" r="3.9"/>
<circle cx="1749.8" cy="1177.7" r="3.9"/>
<circle cx="1749.8" cy="1180.7" r="3.9"/>
<circle cx="1749.8" cy="1182.1" r="3.9"/>
<circle cx="1749.8" cy="1185.2" r="3.9"/>
<circle cx="1749.8" cy="1187.5" r="3.9"/>
<circle cx="1749.8" cy="1189.8" r="3.9"/>
<circle cx="1749.8" cy="1191.4" r="3.9"/>
<circle cx="1749.8" cy="1193.6" r="3.9"/>
<circle cx="1749.8" cy="1196.0" r="3.9"/>
<circle cx="1749.8" cy="1198.9" r="3.9"/>
<circle cx="1749.8" cy="1200.2" r="3.9"/>
<circle cx="1749.8" cy="1202.9" r="3.9"/>
<circle cx="1749.8" cy="1205.1" r="3.9"/>
</g>
<g fill="#f4ae7d">
<circle cx="1785.7" cy="1095.1" r="3.9"/>
<circle cx="1785.7" cy="1162.0" r="3.9"/>
<circle cx="1785.7" cy="1104.0" r="3.9"/>
<circle cx="1785.7" cy="1105.8" r="3.9"/>
<circle cx="1785.7" cy="1108.1" r="3.9"/>
<circle cx="1785.7" cy="1110.1" r="3.9"/>
<circle cx="1785.7" cy="1111.8" r="3.9"/>
<circle cx="1785.7" cy="1114.0" r="3.9"/>
<circle cx="1785.7" cy="1115.7" r="3.9"/>
<circle cx="1785.7" cy="1118.4" r="3.9"/>
<circle cx="1785.7" cy="1120.1" r="3.9"/>
<circle cx="1785.7" cy="1122.2" r="3.9"/>
<circle cx="1785.7" cy="1124.0" r="3.9"/>
<circle cx="1785.7" cy="1125.9" r="3.9"/>
<circle cx="1785.7" cy="1128.2" r="3.9"/>
<circle cx="1785.7" cy="1130.4" r="3.9"/>
<circle cx="1785.7" cy="1132.1" r="3.9"/>
<circle cx="1785.7" cy="1133.9" r="3.9"/>
<circle cx="1785.7" cy="1136.4" r="3.9"/>
<circle cx="1785.7" cy="1137.6" r="3.9"/>
<circle cx="1785.7" cy="1139.5" r="3.9"/>
<circle cx="1785.7" cy="1141.9" r="3.9"/>
<circle cx="1785.7" cy="1144.5" r="3.9"/>
<circle cx="1785.7" cy="1145.9" r="3.9"/>
<circle cx="1785.7" cy="1147.9" r="3.9"/>
</g>
<g fill="#f4ae7d">
<circle cx="1821.5" cy="1184.4" r="3.9"/>
<circle cx="1821.5" cy="1115.0" r="3.9"/>
<circle cx="1821.5" cy="1117.4" r="3.9"/>
<circle cx="1821.5" cy="1118.8" r="3.9"/>
<circle cx="1821.5" cy="1121.3" r="3.9"/>
<circle cx="1821.5" cy="1122.8" r="3.9"/>
<circle cx="1821.5" cy="1124.6" r="3.9"/>
<circle cx="1821.5" cy="1126.9" r="3.9"/>
<circle cx="1821.5" cy="1139.0" r="3.9"/>
<circle cx="1821.5" cy="1141.5" r="3.9"/>
<circle cx="1821.5" cy="1143.2" r="3.9"/>
<circle cx="1821.5" cy="1145.3" r="3.9"/>
<circle cx="1821.5" cy="1146.7" r="3.9"/>
<circle cx="1821.5" cy="1148.9" r="3.9"/>
<circle cx="1821.5" cy="1150.7" r="3.9"/>
<circle cx="1821.5" cy="1152.8" r="3.9"/>
<circle cx="1821.5" cy="1154.9" r="3.9"/>
<circle cx="1821.5" cy="1156.5" r="3.9"/>
<circle cx="1821.5" cy="1159.6" r="3.9"/>
<circle cx="1821.5" cy="1161.3" r="3.9"/>
<circle cx="1821.5" cy="1162.7" r="3.9"/>
<circle cx="1821.5" cy="1164.8" r="3.9"/>
<circle cx="1821.5" cy="1166.7" r="3.9"/>
<circle cx="1821.5" cy="1168.7" r="3.9"/>
<circle cx="1821.5" cy="1171.1" r="3.9"/>
</g>
<g fill="#f4ae7d">
<circle cx="1857.4" cy="1167.4" r="3.9"/>
<circle cx="1857.4" cy="1177.4" r="3.9"/>
<circle cx="1857.4" cy="1144.0" r="3.9"/>
<circle cx="1857.4" cy="1145.8" r="3.9"/>
<circle cx="1857.4" cy="1147.2" r="3.9"/>
<circle cx="1857.4" cy="1149.6" r="3.9"/>
<circle cx="1857.4" cy="1150.9" r="3.9"/>
<circle cx="1857.4" cy="1152.5" r="3.9"/>
<circle cx="1857.4" cy="1154.7" r="3.9"/>
<circle cx="1857.4" cy="1156.3" r="3.9"/>
<circle cx="1857.4" cy="1158.1" r="3.9"/>
<circle cx="1857.4" cy="1194.0" r="3.9"/>
<circle cx="1857.4" cy="1195.9" r="3.9"/>
<circle cx="1857.4" cy="1197.5" r="3.9"/>
<circle cx="1857.4" cy="1199.0" r="3.9"/>
<circle cx="1857.4" cy="1200.9" r="3.9"/>
<circle cx="1857.4" cy="1202.7" r="3.9"/>
<circle cx="1857.4" cy="1204.2" r="3.9"/>
<circle cx="1857.4" cy="1206.4" r="3.9"/>
<circle cx="1857.4" cy="1208.1" r="3.9"/>
<circle cx="1857.4" cy="1209.4" r="3.9"/>
<circle cx="1857.4" cy="1211.4" r="3.9"/>
<circle cx="1857.4" cy="1213.5" r="3.9"/>
<circle cx="1857.4" cy="1215.1" r="3.9"/>
<circle cx="1857.4" cy="1217.0" r="3.9"/>
</g>
<g fill="#f4ae7d">
<circle cx="1893.2" cy="1260.4" r="3.9"/>
<circle cx="1893.2" cy="1185.0" r="3.9"/>
<circle cx="1893.2" cy="1186.7" r="3.9"/>
<circle cx="1893.2" cy="1188.4" r="3.9"/>
<circle cx="1893.2" cy="1190.2" r="3.9"/>
<circle cx="1893.2" cy="1192.0" r="3.9"/>
<circle cx="1893.2" cy="1193.6" r="3.9"/>
<circle cx="1893.2" cy="1195.6" r="3.9"/>
<circle cx="1893.2" cy="1197.5" r="3.9"/>
<circle cx="1893.2" cy="1199.0" r="3.9"/>
<circle cx="1893.2" cy="1210.9" r="3.9"/>
<circle cx="1893.2" cy="1212.5" r="3.9"/>
<circle cx="1893.2" cy="1214.9" r="3.9"/>
<circle cx="1893.2" cy="1217.4" r="3.9"/>
<circle cx="1893.2" cy="1219.0" r="3.9"/>
<circle cx="1893.2" cy="1232.0" r="3.9"/>
<circle cx="1893.2" cy="1233.4" r="3.9"/>
<circle cx="1893.2" cy="1235.3" r="3.9"/>
<circle cx="1893.2" cy="1237.1" r="3.9"/>
<circle cx="1893.2" cy="1238.7" r="3.9"/>
<circle cx="1893.2" cy="1240.6" r="3.9"/>
<circle cx="1893.2" cy="1242.8" r="3.9"/>
<circle cx="1893.2" cy="1244.0" r="3.9"/>
<circle cx="1893.2" cy="1246.6" r="3.9"/>
<circle cx="1893.2" cy="1248.0" r="3.9"/>
</g>
<g fill="#f4ae7d">
<circle cx="1929.1" cy="1311.0" r="3.9"/>
<circle cx="1929.1" cy="1238.0" r="3.9"/>
<circle cx="1929.1" cy="1239.7" r="3.9"/>
<circle cx="1929.1" cy="1241.2" r="3.9"/>
<circle cx="1929.1" cy="1243.4" r="3.9"/>
<circle cx="1929.1" cy="1245.6" r="3.9"/>
<circle cx="1929.1" cy="1247.4" r="3.9"/>
<circle cx="1929.1" cy="1249.4" r="3.9"/>
<circle cx="1929.1" cy="1251.0" r="3.9"/>
<circle cx="1929.1" cy="1261.0" r="3.9"/>
<circle cx="1929.1" cy="1263.5" r="3.9"/>
<circle cx="1929.1" cy="1265.1" r="3.9"/>
<circle cx="1929.1" cy="1267.0" r="3.9"/>
<circle cx="1929.1" cy="1269.2" r="3.9"/>
<circle cx="1929.1" cy="1270.9" r="3.9"/>
<circle cx="1929.1" cy="1283.9" r="3.9"/>
<circle cx="1929.1" cy="1285.6" r="3.9"/>
<circle cx="1929.1" cy="1287.5" r="3.9"/>
<circle cx="1929.1" cy="1289.5" r="3.9"/>
<circle cx="1929.1" cy="1292.0" r="3.9"/>
<circle cx="1929.1" cy="1293.6" r="3.9"/>
<circle cx="1929.1" cy="1295.8" r="3.9"/>
<circle cx="1929.1" cy="1297.1" r="3.9"/>
<circle cx="1929.1" cy="1299.2" r="3.9"/>
<circle cx="1929.1" cy="1301.0" r="3.9"/>
</g>
<g fill="#f4ae7d">
<circle cx="1964.9" cy="1261.0" r="3.9"/>
<circle cx="1964.9" cy="1263.6" r="3.9"/>
<circle cx="1964.9" cy="1265.4" r="3.9"/>
<circle cx="1964.9" cy="1267.6" r="3.9"/>
<circle cx="1964.9" cy="1269.6" r="3.9"/>
<circle cx="1964.9" cy="1272.0" r="3.9"/>
<circle cx="1964.9" cy="1274.1" r="3.9"/>
<circle cx="1964.9" cy="1277.3" r="3.9"/>
<circle cx="1964.9" cy="1279.4" r="3.9"/>
<circle cx="1964.9" cy="1281.1" r="3.9"/>
<circle cx="1964.9" cy="1283.2" r="3.9"/>
<circle cx="1964.9" cy="1286.5" r="3.9"/>
<circle cx="1964.9" cy="1288.1" r="3.9"/>
<circle cx="1964.9" cy="1290.5" r="3.9"/>
<circle cx="1964.9" cy="1292.6" r="3.9"/>
<circle cx="1964.9" cy="1295.0" r="3.9"/>
<circle cx="1964.9" cy="1312.0" r="3.9"/>
<circle cx="1964.9" cy="1315.1" r="3.9"/>
<circle cx="1964.9" cy="1317.1" r="3.9"/>
<circle cx="1964.9" cy="1319.3" r="3.9"/>
<circle cx="1964.9" cy="1322.3" r="3.9"/>
<circle cx="1964.9" cy="1324.7" r="3.9"/>
<circle cx="1964.9" cy="1327.3" r="3.9"/>
<circle cx="1964.9" cy="1329.0" r="3.9"/>
<circle cx="1964.9" cy="1332.0" r="3.9"/>
</g>
<g fill="#f4ae7d">
<circle cx="2000.8" cy="1341.3" r="3.9"/>
<circle cx="2000.8" cy="1302.1" r="3.9"/>
<circle cx="2000.8" cy="1304.7" r="3.9"/>
<circle cx="2000.8" cy="1306.3" r="3.9"/>
<circle cx="2000.8" cy="1309.3" r="3.9"/>
<circle cx="2000.8" cy="1311.0" r="3.9"/>
<circle cx="2000.8" cy="1313.8" r="3.9"/>
<circle cx="2000.8" cy="1316.4" r="3.9"/>
<circle cx="2000.8" cy="1318.5" r="3.9"/>
<circle cx="2000.8" cy="1320.8" r="3.9"/>
<circle cx="2000.8" cy="1323.5" r="3.9"/>
<circle cx="2000.8" cy="1326.2" r="3.9"/>
<circle cx="2000.8" cy="1327.9" r="3.9"/>
<circle cx="2000.8" cy="1330.3" r="3.9"/>
<circle cx="2000.8" cy="1333.0" r="3.9"/>
<circle cx="2000.8" cy="1351.0" r="3.9"/>
<circle cx="2000.8" cy="1353.0" r="3.9"/>
<circle cx="2000.8" cy="1355.3" r="3.9"/>
<circle cx="2000.8" cy="1358.1" r="3.9"/>
<circle cx="2000.8" cy="1360.2" r="3.9"/>
<circle cx="2000.8" cy="1363.0" r="3.9"/>
<circle cx="2000.8" cy="1365.9" r="3.9"/>
<circle cx="2000.8" cy="1367.7" r="3.9"/>
<circle cx="2000.8" cy="1370.9" r="3.9"/>
<circle cx="2000.8" cy="1372.9" r="3.9"/>
</g>
<g fill="#f4ae7d">
<circle cx="2036.7" cy="1343.0" r="3.9"/>
<circle cx="2036.7" cy="1345.8" r="3.9"/>
<circle cx="2036.7" cy="1347.6" r="3.9"/>
<circle cx="2036.7" cy="1349.2" r="3.9"/>
<circle cx="2036.7" cy="1351.4" r="3.9"/>
<circle cx="2036.7" cy="1353.6" r="3.9"/>
<circle cx="2036.7" cy="1356.0" r="3.9"/>
<circle cx="2036.7" cy="1366.0" r="3.9"/>
<circle cx="2036.7" cy="1368.2" r="3.9"/>
<circle cx="2036.7" cy="1370.2" r="3.9"/>
<circle cx="2036.7" cy="1373.8" r="3.9"/>
<circle cx="2036.7" cy="1375.1" r="3.9"/>
<circle cx="2036.7" cy="1378.1" r="3.9"/>
<circle cx="2036.7" cy="1393.0" r="3.9"/>
<circle cx="2036.7" cy="1394.6" r="3.9"/>
<circle cx="2036.7" cy="1397.8" r="3.9"/>
<circle cx="2036.7" cy="1399.1" r="3.9"/>
<circle cx="2036.7" cy="1400.9" r="3.9"/>
<circle cx="2036.7" cy="1403.9" r="3.9"/>
<circle cx="2036.7" cy="1405.1" r="3.9"/>
<circle cx="2036.7" cy="1407.1" r="3.9"/>
<circle cx="2036.7" cy="1409.7" r="3.9"/>
<circle cx="2036.7" cy="1412.4" r="3.9"/>
<circle cx="2036.7" cy="1413.4" r="3.9"/>
<circle cx="2036.7" cy="1416.0" r="3.9"/>
</g>
<g fill="#f4ae7d">
<circle cx="2072.5" cy="1382.0" r="3.9"/>
<circle cx="2072.5" cy="1385.8" r="3.9"/>
<circle cx="2072.5" cy="1388.0" r="3.9"/>
<circle cx="2072.5" cy="1391.0" r="3.9"/>
<circle cx="2072.5" cy="1394.3" r="3.9"/>
<circle cx="2072.5" cy="1397.3" r="3.9"/>
<circle cx="2072.5" cy="1401.1" r="3.9"/>
<circle cx="2072.5" cy="1403.2" r="3.9"/>
<circle cx="2072.5" cy="1405.9" r="3.9"/>
<circle cx="2072.5" cy="1408.9" r="3.9"/>
<circle cx="2072.5" cy="1413.1" r="3.9"/>
<circle cx="2072.5" cy="1414.8" r="3.9"/>
<circle cx="2072.5" cy="1417.6" r="3.9"/>
<circle cx="2072.5" cy="1421.4" r="3.9"/>
<circle cx="2072.5" cy="1423.7" r="3.9"/>
<circle cx="2072.5" cy="1428.1" r="3.9"/>
<circle cx="2072.5" cy="1430.0" r="3.9"/>
<circle cx="2072.5" cy="1434.1" r="3.9"/>
<circle cx="2072.5" cy="1436.2" r="3.9"/>
<circle cx="2072.5" cy="1440.1" r="3.9"/>
<circle cx="2072.5" cy="1443.1" r="3.9"/>
<circle cx="2072.5" cy="1445.4" r="3.9"/>
<circle cx="2072.5" cy="1449.1" r="3.9"/>
<circle cx="2072.5" cy="1452.1" r="3.9"/>
<circle cx="2072.5" cy="1455.0" r="3.9"/>
</g>
<path class="ax" d="M1188.4 982.2V1589.8H2100.0"/>
<line class="ax" x1="1176.9" y1="984.3" x2="1188.4" y2="984.3"/>
<text class="t" x="1173.9" y="996.9" text-anchor="end">6.0</text>
<line class="ax" x1="1176.9" y1="1059.8" x2="1188.4" y2="1059.8"/>
<text class="t" x="1173.9" y="1072.4" text-anchor="end">5.5</text>
<line class="ax" x1="1176.9" y1="1135.4" x2="1188.4" y2="1135.4"/>
<text class="t" x="1173.9" y="1148.0" text-anchor="end">5.0</text>
<line class="ax" x1="1176.9" y1="1210.9" x2="1188.4" y2="1210.9"/>
<text class="t" x="1173.9" y="1223.5" text-anchor="end">4.5</text>
<line class="ax" x1="1176.9" y1="1286.5" x2="1188.4" y2="1286.5"/>
<text class="t" x="1173.9" y="1299.1" text-anchor="end">4.0</text>
<line class="ax" x1="1176.9" y1="1362.0" x2="1188.4" y2="1362.0"/>
<text class="t" x="1173.9" y="1374.6" text-anchor="end">3.5</text>
<line class="ax" x1="1176.9" y1="1437.6" x2="1188.4" y2="1437.6"/>
<text class="t" x="1173.9" y="1450.2" text-anchor="end">3.0</text>
<line class="ax" x1="1176.9" y1="1513.2" x2="1188.4" y2="1513.2"/>
<text class="t" x="1173.9" y="1525.8" text-anchor="end">2.5</text>
<line class="ax" x1="1176.9" y1="1588.7" x2="1188.4" y2="1588.7"/>
<text class="t" x="1173.9" y="1601.3" text-anchor="end">2.0</text>
<text class="tt" transform="translate(1087,1282) rotate(-90)" text-anchor="middle">defocus [µm]</text>
<text class="tt" x="1644" y="1633" text-anchor="middle">tilt series</text>
<polygon points="130.6,2281.8 522.1,2052.1 522.1,1714.6 130.6,1944.4" fill="#f2f2f2" stroke="#ececec" stroke-width="1.5"/>
<polygon points="914.4,2281.9 522.1,2052.1 522.1,1714.6 914.4,1944.4" fill="#f7f7f7" stroke="#ececec" stroke-width="1.5"/>
<polygon points="130.6,2281.8 522.1,2052.1 914.4,2281.9 522.9,2511.7" fill="#f4f4f4" stroke="#ececec" stroke-width="1.5"/>
<line class="g3" x1="560.5" y1="2489.6" x2="168.3" y2="2259.7"/>
<line class="g3" x1="168.3" y1="2259.7" x2="168.3" y2="1922.3"/>
<line class="g3" x1="480.4" y1="2486.8" x2="872.0" y2="2257.1"/>
<line class="g3" x1="872.0" y1="2257.1" x2="872.0" y2="1919.6"/>
<line class="g3" x1="639.5" y1="2443.2" x2="247.2" y2="2213.4"/>
<line class="g3" x1="247.2" y1="2213.4" x2="247.2" y2="1875.9"/>
<line class="g3" x1="402.4" y1="2441.0" x2="793.9" y2="2211.3"/>
<line class="g3" x1="793.9" y1="2211.3" x2="793.9" y2="1873.8"/>
<line class="g3" x1="718.5" y1="2396.9" x2="326.2" y2="2167.0"/>
<line class="g3" x1="326.2" y1="2167.0" x2="326.2" y2="1829.6"/>
<line class="g3" x1="324.3" y1="2395.3" x2="715.8" y2="2165.6"/>
<line class="g3" x1="715.8" y1="2165.6" x2="715.8" y2="1828.1"/>
<line class="g3" x1="797.5" y1="2350.5" x2="405.2" y2="2120.7"/>
<line class="g3" x1="405.2" y1="2120.7" x2="405.2" y2="1783.2"/>
<line class="g3" x1="246.2" y1="2349.5" x2="637.7" y2="2119.8"/>
<line class="g3" x1="637.7" y1="2119.8" x2="637.7" y2="1782.3"/>
<line class="g3" x1="876.5" y1="2304.2" x2="484.2" y2="2074.3"/>
<line class="g3" x1="484.2" y1="2074.3" x2="484.2" y2="1736.9"/>
<line class="g3" x1="168.1" y1="2303.8" x2="559.6" y2="2074.1"/>
<line class="g3" x1="559.6" y1="2074.1" x2="559.6" y2="1736.6"/>
<line class="g3" x1="130.6" y1="2243.6" x2="522.1" y2="2013.9"/>
<line class="g3" x1="522.1" y1="2013.9" x2="914.4" y2="2243.7"/>
<line class="g3" x1="130.6" y1="2098.4" x2="522.1" y2="1868.6"/>
<line class="g3" x1="522.1" y1="1868.6" x2="914.4" y2="2098.4"/>
<line class="g3" x1="130.6" y1="1953.1" x2="522.1" y2="1723.3"/>
<line class="g3" x1="522.1" y1="1723.3" x2="914.4" y2="1953.2"/>
<g fill="#f6ad7b">
<circle cx="626.1" cy="1838.4" r="10.8"/>
<circle cx="543.2" cy="1876.1" r="10.8"/>
<circle cx="455.7" cy="1926.4" r="10.8"/>
<circle cx="654.7" cy="1947.0" r="10.8"/>
<circle cx="574.6" cy="1977.9" r="10.8"/>
<circle cx="368.8" cy="1985.9" r="10.8"/>
<circle cx="486.6" cy="2017.9" r="10.8"/>
<circle cx="290.5" cy="2056.2" r="10.8"/>
<circle cx="396.2" cy="2067.7" r="10.8"/>
<circle cx="686.1" cy="2059.1" r="10.8"/>
<circle cx="607.2" cy="2091.7" r="10.8"/>
<circle cx="313.3" cy="2123.1" r="10.8"/>
<circle cx="518.6" cy="2133.4" r="10.8"/>
<circle cx="719.3" cy="2155.7" r="10.8"/>
<circle cx="426.5" cy="2170.0" r="10.8"/>
<circle cx="637.5" cy="2191.7" r="10.8"/>
<circle cx="344.8" cy="2215.7" r="10.8"/>
<circle cx="548.9" cy="2228.9" r="10.8"/>
<circle cx="753.0" cy="2231.2" r="10.8"/>
<circle cx="458.0" cy="2267.8" r="10.8"/>
<circle cx="663.8" cy="2267.2" r="10.8"/>
<circle cx="376.2" cy="2307.8" r="10.8"/>
<circle cx="576.9" cy="2306.1" r="10.8"/>
<circle cx="491.1" cy="2346.1" r="10.8"/>
<circle cx="404.8" cy="2393.0" r="10.8"/>
</g>
<path class="ax3" stroke-linejoin="miter" d="M130.6 1944.4L130.6 2281.8L522.9 2511.7L914.4 2281.9"/>
<line class="tk3" x1="122.1" y1="2248.6" x2="133.6" y2="2241.8"/>
<text class="m" x="103.5" y="2262.8" text-anchor="middle">4</text>
<line class="tk3" x1="122.1" y1="2103.4" x2="133.6" y2="2096.6"/>
<text class="m" x="103.5" y="2117.6" text-anchor="middle">5</text>
<line class="tk3" x1="122.1" y1="1958.1" x2="133.6" y2="1951.3"/>
<text class="m" x="104.0" y="1972.3" text-anchor="middle">6</text>
<line class="tk3" x1="472.9" y1="2491.2" x2="485.4" y2="2483.9"/>
<text class="m" x="446.4" y="2520.8" text-anchor="middle">-6</text>
<line class="tk3" x1="394.9" y1="2445.4" x2="407.4" y2="2438.1"/>
<text class="m" x="370.4" y="2474.8" text-anchor="middle">-3</text>
<line class="tk3" x1="316.8" y1="2399.7" x2="329.3" y2="2392.4"/>
<text class="m" x="296.0" y="2425.6" text-anchor="middle">0</text>
<line class="tk3" x1="238.7" y1="2353.9" x2="251.2" y2="2346.6"/>
<text class="m" x="218.2" y="2381.3" text-anchor="middle">3</text>
<line class="tk3" x1="160.6" y1="2308.2" x2="173.1" y2="2300.9"/>
<text class="m" x="137.9" y="2338.5" text-anchor="middle">6</text>
<line class="tk3" x1="568.0" y1="2494.0" x2="555.5" y2="2486.7"/>
<text class="m" x="578.9" y="2520.8" text-anchor="middle">-6</text>
<line class="tk3" x1="647.0" y1="2447.6" x2="634.5" y2="2440.3"/>
<text class="m" x="660.4" y="2474.8" text-anchor="middle">-3</text>
<line class="tk3" x1="726.0" y1="2401.3" x2="713.5" y2="2394.0"/>
<text class="m" x="742.8" y="2424.9" text-anchor="middle">0</text>
<line class="tk3" x1="805.0" y1="2354.9" x2="792.5" y2="2347.6"/>
<text class="m" x="825.2" y="2381.7" text-anchor="middle">3</text>
<line class="tk3" x1="884.0" y1="2308.6" x2="871.5" y2="2301.3"/>
<text class="m" x="898.9" y="2338.4" text-anchor="middle">6</text>
<text class="tt" transform="translate(69,2115) rotate(-90)" text-anchor="middle">defocus [µm]</text>
<text class="tt" x="248" y="2465.8" text-anchor="middle">Y [µm]</text>
<text class="tt" x="786.5" y="2472.3" text-anchor="middle">X [µm]</text>
<polygon points="1256.5,2280.0 1648.8,2050.2 1648.8,1713.4 1256.5,1943.2" fill="#f2f2f2" stroke="#ececec" stroke-width="1.5"/>
<polygon points="2039.9,2280.3 1648.8,2050.2 1648.8,1713.4 2039.9,1943.5" fill="#f7f7f7" stroke="#ececec" stroke-width="1.5"/>
<polygon points="1256.5,2280.0 1648.8,2050.2 2039.9,2280.3 1647.5,2510.1" fill="#f4f4f4" stroke="#ececec" stroke-width="1.5"/>
<line class="g3" x1="1611.4" y1="2072.1" x2="2002.5" y2="2302.3"/>
<line class="g3" x1="1611.4" y1="2072.1" x2="1611.4" y2="1735.3"/>
<line class="g3" x1="1689.9" y1="2074.4" x2="1297.6" y2="2304.2"/>
<line class="g3" x1="1689.9" y1="2074.4" x2="1689.9" y2="1737.6"/>
<line class="g3" x1="1532.4" y1="2118.4" x2="1923.4" y2="2348.5"/>
<line class="g3" x1="1532.4" y1="2118.4" x2="1532.4" y2="1781.6"/>
<line class="g3" x1="1767.9" y1="2120.3" x2="1375.6" y2="2350.1"/>
<line class="g3" x1="1767.9" y1="2120.3" x2="1767.9" y2="1783.5"/>
<line class="g3" x1="1453.3" y1="2164.7" x2="1844.4" y2="2394.8"/>
<line class="g3" x1="1453.3" y1="2164.7" x2="1453.3" y2="1827.9"/>
<line class="g3" x1="1845.9" y1="2166.2" x2="1453.6" y2="2396.0"/>
<line class="g3" x1="1845.9" y1="2166.2" x2="1845.9" y2="1829.4"/>
<line class="g3" x1="1374.3" y1="2211.0" x2="1765.3" y2="2441.1"/>
<line class="g3" x1="1374.3" y1="2211.0" x2="1374.3" y2="1874.2"/>
<line class="g3" x1="1923.9" y1="2212.1" x2="1531.6" y2="2441.9"/>
<line class="g3" x1="1923.9" y1="2212.1" x2="1923.9" y2="1875.3"/>
<line class="g3" x1="1295.2" y1="2257.3" x2="1686.3" y2="2487.4"/>
<line class="g3" x1="1295.2" y1="2257.3" x2="1295.2" y2="1920.5"/>
<line class="g3" x1="2001.9" y1="2258.0" x2="1609.6" y2="2487.8"/>
<line class="g3" x1="2001.9" y1="2258.0" x2="2001.9" y2="1921.2"/>
<line class="g3" x1="1256.5" y1="2243.2" x2="1648.8" y2="2013.4"/>
<line class="g3" x1="1648.8" y1="2013.4" x2="2039.9" y2="2243.6"/>
<line class="g3" x1="1256.5" y1="2097.2" x2="1648.8" y2="1867.4"/>
<line class="g3" x1="1648.8" y1="1867.4" x2="2039.9" y2="2097.6"/>
<line class="g3" x1="1256.5" y1="1951.2" x2="1648.8" y2="1721.4"/>
<line class="g3" x1="1648.8" y1="1721.4" x2="2039.9" y2="1951.6"/>
<g fill="#f6ad7b">
<circle cx="1416.2" cy="2099.5" r="10.8"/>
<circle cx="1449.7" cy="2125.1" r="10.8"/>
<circle cx="1482.6" cy="2132.4" r="10.8"/>
<circle cx="1504.3" cy="2100.8" r="10.8"/>
<circle cx="1514.1" cy="2121.2" r="10.8"/>
<circle cx="1531.2" cy="2125.8" r="10.8"/>
<circle cx="1543.1" cy="2114.6" r="10.8"/>
<circle cx="1560.8" cy="2129.7" r="10.8"/>
<circle cx="1592.4" cy="2106.1" r="10.8"/>
<circle cx="1593.7" cy="2120.5" r="10.8"/>
<circle cx="1618.7" cy="2125.8" r="10.8"/>
<circle cx="1626.6" cy="2121.2" r="10.8"/>
<circle cx="1650.2" cy="2133.0" r="10.8"/>
<circle cx="1677.9" cy="2112.0" r="10.8"/>
<circle cx="1681.8" cy="2124.5" r="10.8"/>
<circle cx="1710.1" cy="2127.1" r="10.8"/>
<circle cx="1712.7" cy="2133.7" r="10.8"/>
<circle cx="1741.6" cy="2135.0" r="10.8"/>
<circle cx="1764.0" cy="2126.4" r="10.8"/>
<circle cx="1771.9" cy="2137.0" r="10.8"/>
<circle cx="1792.3" cy="2135.7" r="10.8"/>
<circle cx="1800.2" cy="2156.0" r="10.8"/>
<circle cx="1823.2" cy="2144.9" r="10.8"/>
<circle cx="1856.0" cy="2158.0" r="10.8"/>
<circle cx="1878.4" cy="2184.3" r="10.8"/>
</g>
<path class="ax3" stroke-linejoin="miter" d="M1256.5 1943.2L1256.5 2280.0L1647.5 2510.1L2039.9 2280.3"/>
<line class="tk3" x1="1248.0" y1="2248.2" x2="1259.5" y2="2241.4"/>
<text class="m" x="1231.7" y="2261.8" text-anchor="middle">4</text>
<line class="tk3" x1="1248.0" y1="2102.2" x2="1259.5" y2="2095.4"/>
<text class="m" x="1231.7" y="2117.1" text-anchor="middle">5</text>
<line class="tk3" x1="1248.0" y1="1956.2" x2="1259.5" y2="1949.4"/>
<text class="m" x="1232.3" y="1972.0" text-anchor="middle">6</text>
<line class="tk3" x1="1290.1" y1="2308.6" x2="1302.6" y2="2301.3"/>
<text class="m" x="1261.5" y="2339.5" text-anchor="middle">-6</text>
<line class="tk3" x1="1368.1" y1="2354.5" x2="1380.6" y2="2347.2"/>
<text class="m" x="1340.7" y="2382.5" text-anchor="middle">-3</text>
<line class="tk3" x1="1446.1" y1="2400.4" x2="1458.6" y2="2393.1"/>
<text class="m" x="1424.4" y="2425.3" text-anchor="middle">0</text>
<line class="tk3" x1="1524.1" y1="2446.3" x2="1536.6" y2="2439.0"/>
<text class="m" x="1503.9" y="2473.9" text-anchor="middle">3</text>
<line class="tk3" x1="1602.1" y1="2492.2" x2="1614.6" y2="2484.9"/>
<text class="m" x="1581.6" y="2520.2" text-anchor="middle">6</text>
<line class="tk3" x1="2010.0" y1="2306.7" x2="1997.5" y2="2299.4"/>
<text class="m" x="2021.7" y="2335.9" text-anchor="middle">-6</text>
<line class="tk3" x1="1930.9" y1="2352.9" x2="1918.4" y2="2345.6"/>
<text class="m" x="1948.2" y="2378.7" text-anchor="middle">-3</text>
<line class="tk3" x1="1851.9" y1="2399.2" x2="1839.4" y2="2391.9"/>
<text class="m" x="1870.2" y="2424.5" text-anchor="middle">0</text>
<line class="tk3" x1="1772.8" y1="2445.5" x2="1760.3" y2="2438.2"/>
<text class="m" x="1783.5" y="2474.5" text-anchor="middle">3</text>
<line class="tk3" x1="1693.8" y1="2491.8" x2="1681.3" y2="2484.5"/>
<text class="m" x="1702.1" y="2521.7" text-anchor="middle">6</text>
<text class="tt" transform="translate(1195,2124.5) rotate(-90)" text-anchor="middle">defocus [µm]</text>
<text class="tt" x="1376.5" y="2473" text-anchor="middle">Y [µm]</text>
<text class="tt" x="1914" y="2472.5" text-anchor="middle">X [µm]</text>
<g fill="none" stroke="#231f20" stroke-width="3.3">
<line x1="1058.6" y1="2019" x2="1058.6" y2="2120.7"/>
<line x1="1058.6" y1="2132.7" x2="1058.6" y2="2196"/>
<path d="M1053.2 2091.5A53.9 17.6 0 1 0 1084.1 2093.5"/>
</g>
<polygon points="1071.2,2091.8 1087,2088.6 1083.8,2092.6 1084.6,2099.4" fill="#231f20"/>
<text x="1059.8" y="2229" text-anchor="middle" style="font-size:32.5px;fill:#231f20">180°</text>
</svg></body></html>
